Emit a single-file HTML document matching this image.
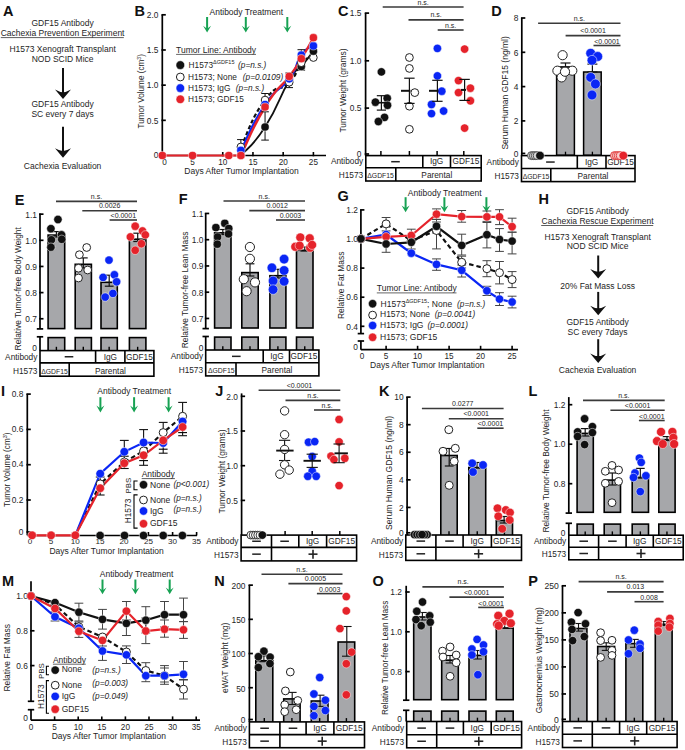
<!DOCTYPE html>
<html><head><meta charset="utf-8"><style>
html,body{margin:0;padding:0;background:#fff;}
svg{display:block;}
text{font-family:"Liberation Sans", sans-serif;}
</style></head><body>
<svg width="685" height="750" viewBox="0 0 685 750" font-family='"Liberation Sans", sans-serif'>
<rect width="685" height="750" fill="#fff"/>
<text x="3.00" y="16.20" font-size="14.5" text-anchor="start" font-weight="bold" fill="#111">A</text>
<text x="62.60" y="26.00" font-size="8.5" text-anchor="middle" fill="#1e1e1e">GDF15 Antibody</text>
<text x="62.60" y="36.00" font-size="8.5" text-anchor="middle" fill="#1e1e1e">Cachexia Prevention Experiment</text>
<line x1="0.80" y1="37.60" x2="123.80" y2="37.60" stroke="#333" stroke-width="0.8"/>
<text x="62.60" y="51.60" font-size="8.5" text-anchor="middle" fill="#1e1e1e">H1573 Xenograft Transplant</text>
<text x="62.60" y="61.70" font-size="8.5" text-anchor="middle" fill="#1e1e1e">NOD SCID Mice</text>
<line x1="63.00" y1="68.00" x2="63.00" y2="93.30" stroke="#111" stroke-width="2"/>
<path d="M55.00,89.50 Q60.20,92.36 63.00,92.16 Q65.80,92.36 71.00,89.50 L63.00,99.00 Z" fill="#111"/>
<text x="62.60" y="107.40" font-size="8.5" text-anchor="middle" fill="#1e1e1e">GDF15 Antibody</text>
<text x="62.60" y="117.30" font-size="8.5" text-anchor="middle" fill="#1e1e1e">SC every 7 days</text>
<line x1="63.00" y1="126.80" x2="63.00" y2="152.10" stroke="#111" stroke-width="2"/>
<path d="M55.00,148.30 Q60.20,151.16 63.00,150.96 Q65.80,151.16 71.00,148.30 L63.00,157.80 Z" fill="#111"/>
<text x="62.60" y="168.60" font-size="8.5" text-anchor="middle" fill="#1e1e1e">Cachexia Evaluation</text>
<text x="134.60" y="16.00" font-size="14.5" text-anchor="start" font-weight="bold" fill="#111">B</text>
<line x1="162.30" y1="14.80" x2="162.30" y2="155.50" stroke="#000" stroke-width="1.7"/>
<line x1="161.45" y1="14.80" x2="165.80" y2="14.80" stroke="#000" stroke-width="1.7"/>
<text x="158.40" y="18.00" font-size="8.4" text-anchor="end" fill="#1e1e1e">2.0</text>
<line x1="161.45" y1="49.98" x2="165.80" y2="49.98" stroke="#000" stroke-width="1.7"/>
<text x="158.40" y="53.18" font-size="8.4" text-anchor="end" fill="#1e1e1e">1.5</text>
<line x1="161.45" y1="85.15" x2="165.80" y2="85.15" stroke="#000" stroke-width="1.7"/>
<text x="158.40" y="88.35" font-size="8.4" text-anchor="end" fill="#1e1e1e">1.0</text>
<line x1="161.45" y1="120.33" x2="165.80" y2="120.33" stroke="#000" stroke-width="1.7"/>
<text x="158.40" y="123.53" font-size="8.4" text-anchor="end" fill="#1e1e1e">0.5</text>
<line x1="161.45" y1="154.30" x2="165.80" y2="154.30" stroke="#000" stroke-width="1.7"/>
<text x="158.40" y="157.50" font-size="8.4" text-anchor="end" fill="#1e1e1e">0</text>
<line x1="162.30" y1="155.50" x2="326.00" y2="155.50" stroke="#000" stroke-width="1.7"/>
<line x1="192.52" y1="156.30" x2="192.52" y2="152.00" stroke="#000" stroke-width="1.6"/>
<line x1="222.74" y1="156.30" x2="222.74" y2="152.00" stroke="#000" stroke-width="1.6"/>
<line x1="252.96" y1="156.30" x2="252.96" y2="152.00" stroke="#000" stroke-width="1.6"/>
<line x1="283.18" y1="156.30" x2="283.18" y2="152.00" stroke="#000" stroke-width="1.6"/>
<line x1="313.40" y1="156.30" x2="313.40" y2="152.00" stroke="#000" stroke-width="1.6"/>
<text x="164.60" y="164.80" font-size="8.2" text-anchor="middle" fill="#1e1e1e">0</text>
<text x="192.52" y="164.80" font-size="8.2" text-anchor="middle" fill="#1e1e1e">5</text>
<text x="222.74" y="164.80" font-size="8.2" text-anchor="middle" fill="#1e1e1e">10</text>
<text x="252.96" y="164.80" font-size="8.2" text-anchor="middle" fill="#1e1e1e">15</text>
<text x="283.18" y="164.80" font-size="8.2" text-anchor="middle" fill="#1e1e1e">20</text>
<text x="313.40" y="164.80" font-size="8.2" text-anchor="middle" fill="#1e1e1e">25</text>
<text x="241.50" y="173.90" font-size="8.5" text-anchor="middle" fill="#1e1e1e">Days After Tumor Implantation</text>
<text x="144.50" y="91.30" font-size="8.2" text-anchor="middle" fill="#1e1e1e" transform="rotate(-90 144.50 91.30)">Tumor Volume (cm<tspan dy="-3" font-size="5">3</tspan><tspan dy="3">)</tspan></text>
<text x="209.50" y="14.70" font-size="8.5" text-anchor="start" fill="#1e1e1e">Antibody Treatment</text>
<line x1="207.10" y1="17.00" x2="207.10" y2="28.30" stroke="#17a253" stroke-width="2.0"/>
<path d="M203.10,25.80 L207.10,32.60 L211.10,25.80 L208.10,28.00 L206.10,28.00 Z" fill="#17a253"/>
<line x1="245.80" y1="17.00" x2="245.80" y2="28.30" stroke="#17a253" stroke-width="2.0"/>
<path d="M241.80,25.80 L245.80,32.60 L249.80,25.80 L246.80,28.00 L244.80,28.00 Z" fill="#17a253"/>
<line x1="287.30" y1="17.00" x2="287.30" y2="28.30" stroke="#17a253" stroke-width="2.0"/>
<path d="M283.30,25.80 L287.30,32.60 L291.30,25.80 L288.30,28.00 L286.30,28.00 Z" fill="#17a253"/>
<text x="176.10" y="52.90" font-size="8.5" text-anchor="start" fill="#1e1e1e">Tumor Line: Antibody</text>
<line x1="176.10" y1="54.40" x2="256.00" y2="54.40" stroke="#555" stroke-width="0.9"/>
<circle cx="180.30" cy="65.10" r="4.35" fill="#111" stroke="#fff" stroke-width="0.5"/>
<circle cx="180.30" cy="77.00" r="3.9" fill="#fff" stroke="#222" stroke-width="1"/>
<circle cx="180.30" cy="88.10" r="4.3" fill="#0a26f5" stroke="#fff" stroke-width="0.5"/>
<circle cx="180.30" cy="99.30" r="4.3" fill="#e5232b" stroke="#fff" stroke-width="0.5"/>
<text x="188.60" y="67.90" font-size="8.3" text-anchor="start" fill="#1e1e1e">H1573<tspan dy="-3.5" font-size="5.5">ΔGDF15</tspan></text>
<text x="238.00" y="67.90" font-size="8.3" text-anchor="start" font-style="italic" fill="#1e1e1e">(p=n.s.)</text>
<text x="188.00" y="79.60" font-size="8.3" text-anchor="start" fill="#1e1e1e">H1573; None</text>
<text x="242.80" y="79.60" font-size="8.3" text-anchor="start" font-style="italic" fill="#1e1e1e">(p=0.0109)</text>
<text x="188.00" y="90.50" font-size="8.3" text-anchor="start" fill="#1e1e1e">H1573; IgG</text>
<text x="235.80" y="90.50" font-size="8.3" text-anchor="start" font-style="italic" fill="#1e1e1e">(p=n.s.)</text>
<text x="188.00" y="101.90" font-size="8.3" text-anchor="start" fill="#1e1e1e">H1573; GDF15</text>
<path d="M240.87,155.50 C248.12,146.95 250.54,149.50 265.05,127.00 C279.55,104.50 278.34,98.65 289.22,80.50 C300.10,62.35 294.06,75.29 301.31,66.50 C308.56,57.71 309.77,55.79 313.40,51.20" stroke="#111" stroke-width="1.8" fill="none"/>
<path d="M240.87,146.90 C248.12,132.83 250.54,119.38 265.05,100.00 C279.55,80.62 278.34,93.46 289.22,82.30 C300.10,71.14 294.06,70.21 301.31,62.80 C308.56,55.39 309.77,59.16 313.40,57.60" stroke="#111" stroke-width="2.2" fill="none" stroke-dasharray="4,2.5"/>
<path d="M240.87,150.40 C248.12,136.63 250.54,125.98 265.05,104.50 C279.55,83.02 278.34,93.65 289.22,78.80 C300.10,63.95 294.06,64.87 301.31,55.00 C308.56,45.13 309.77,48.63 313.40,45.90" stroke="#0a26f5" stroke-width="2.2" fill="none"/>
<path d="M162.3,155.5 L240.9,155.5" stroke="#e5232b" stroke-width="2.2" fill="none"/>
<path d="M240.87,155.50 C248.12,140.95 250.54,130.73 265.05,107.00 C279.55,83.27 278.34,90.89 289.22,76.40 C300.10,61.91 294.06,70.31 301.31,58.70 C308.56,47.09 309.77,44.00 313.40,37.70" stroke="#e5232b" stroke-width="2.4" fill="none"/>
<line x1="265.05" y1="111.80" x2="265.05" y2="140.10" stroke="#111" stroke-width="1.0"/>
<line x1="261.25" y1="111.80" x2="268.85" y2="111.80" stroke="#111" stroke-width="1.0"/>
<line x1="261.25" y1="140.10" x2="268.85" y2="140.10" stroke="#111" stroke-width="1.0"/>
<line x1="265.05" y1="93.50" x2="265.05" y2="106.00" stroke="#111" stroke-width="1.0"/>
<line x1="261.25" y1="93.50" x2="268.85" y2="93.50" stroke="#111" stroke-width="1.0"/>
<line x1="261.25" y1="106.00" x2="268.85" y2="106.00" stroke="#111" stroke-width="1.0"/>
<line x1="240.87" y1="139.60" x2="240.87" y2="150.00" stroke="#111" stroke-width="1.0"/>
<line x1="237.07" y1="139.60" x2="244.67" y2="139.60" stroke="#111" stroke-width="1.0"/>
<line x1="237.07" y1="150.00" x2="244.67" y2="150.00" stroke="#111" stroke-width="1.0"/>
<line x1="289.22" y1="73.00" x2="289.22" y2="87.60" stroke="#111" stroke-width="1.0"/>
<line x1="285.42" y1="73.00" x2="293.02" y2="73.00" stroke="#111" stroke-width="1.0"/>
<line x1="285.42" y1="87.60" x2="293.02" y2="87.60" stroke="#111" stroke-width="1.0"/>
<line x1="301.31" y1="49.70" x2="301.31" y2="70.10" stroke="#111" stroke-width="1.0"/>
<line x1="297.51" y1="49.70" x2="305.11" y2="49.70" stroke="#111" stroke-width="1.0"/>
<line x1="297.51" y1="70.10" x2="305.11" y2="70.10" stroke="#111" stroke-width="1.0"/>
<circle cx="162.30" cy="155.50" r="4.1" fill="#e5232b" stroke="#fff" stroke-width="0.5"/>
<circle cx="192.52" cy="155.50" r="4.1" fill="#e5232b" stroke="#fff" stroke-width="0.5"/>
<circle cx="228.78" cy="155.50" r="4.1" fill="#e5232b" stroke="#fff" stroke-width="0.5"/>
<circle cx="240.87" cy="155.50" r="4.1" fill="#e5232b" stroke="#fff" stroke-width="0.5"/>
<circle cx="240.87" cy="146.90" r="3.8" fill="#fff" stroke="#222" stroke-width="1"/>
<circle cx="240.87" cy="150.40" r="4.1" fill="#0a26f5" stroke="#fff" stroke-width="0.5"/>
<circle cx="240.87" cy="155.50" r="4.1" fill="#e5232b" stroke="#fff" stroke-width="0.5"/>
<circle cx="265.05" cy="127.00" r="4.1" fill="#111" stroke="#fff" stroke-width="0.5"/>
<circle cx="265.05" cy="100.00" r="3.8" fill="#fff" stroke="#222" stroke-width="1"/>
<circle cx="265.05" cy="104.50" r="4.1" fill="#0a26f5" stroke="#fff" stroke-width="0.5"/>
<circle cx="265.05" cy="107.00" r="4.1" fill="#e5232b" stroke="#fff" stroke-width="0.5"/>
<circle cx="289.22" cy="80.50" r="4.1" fill="#111" stroke="#fff" stroke-width="0.5"/>
<circle cx="289.22" cy="82.30" r="3.8" fill="#fff" stroke="#222" stroke-width="1"/>
<circle cx="289.22" cy="78.80" r="4.1" fill="#0a26f5" stroke="#fff" stroke-width="0.5"/>
<circle cx="289.22" cy="76.40" r="4.1" fill="#e5232b" stroke="#fff" stroke-width="0.5"/>
<circle cx="301.31" cy="66.50" r="4.1" fill="#111" stroke="#fff" stroke-width="0.5"/>
<circle cx="301.31" cy="62.80" r="3.8" fill="#fff" stroke="#222" stroke-width="1"/>
<circle cx="301.31" cy="55.00" r="4.1" fill="#0a26f5" stroke="#fff" stroke-width="0.5"/>
<circle cx="301.31" cy="58.70" r="4.1" fill="#e5232b" stroke="#fff" stroke-width="0.5"/>
<circle cx="313.40" cy="57.60" r="3.8" fill="#fff" stroke="#222" stroke-width="1"/>
<circle cx="313.40" cy="51.20" r="4.1" fill="#111" stroke="#fff" stroke-width="0.5"/>
<circle cx="313.40" cy="45.90" r="4.1" fill="#0a26f5" stroke="#fff" stroke-width="0.5"/>
<circle cx="313.40" cy="37.70" r="4.1" fill="#e5232b" stroke="#fff" stroke-width="0.5"/>
<text x="338.00" y="16.40" font-size="14.5" text-anchor="start" font-weight="bold" fill="#111">C</text>
<line x1="365.60" y1="13.10" x2="365.60" y2="155.60" stroke="#000" stroke-width="1.7"/>
<line x1="364.75" y1="13.10" x2="369.10" y2="13.10" stroke="#000" stroke-width="1.7"/>
<text x="361.50" y="16.30" font-size="8.4" text-anchor="end" fill="#1e1e1e">1.5</text>
<line x1="364.75" y1="60.80" x2="369.10" y2="60.80" stroke="#000" stroke-width="1.7"/>
<text x="361.50" y="64.00" font-size="8.4" text-anchor="end" fill="#1e1e1e">1.0</text>
<line x1="364.75" y1="108.10" x2="369.10" y2="108.10" stroke="#000" stroke-width="1.7"/>
<text x="361.50" y="111.30" font-size="8.4" text-anchor="end" fill="#1e1e1e">0.5</text>
<line x1="364.75" y1="154.00" x2="369.10" y2="154.00" stroke="#000" stroke-width="1.7"/>
<text x="361.50" y="157.20" font-size="8.4" text-anchor="end" fill="#1e1e1e">0</text>
<line x1="380.90" y1="155.00" x2="380.90" y2="151.00" stroke="#000" stroke-width="1.5"/>
<line x1="409.40" y1="155.00" x2="409.40" y2="151.00" stroke="#000" stroke-width="1.5"/>
<line x1="437.10" y1="155.00" x2="437.10" y2="151.00" stroke="#000" stroke-width="1.5"/>
<line x1="463.80" y1="155.00" x2="463.80" y2="151.00" stroke="#000" stroke-width="1.5"/>
<line x1="382.70" y1="7.00" x2="463.60" y2="7.00" stroke="#3a3a3a" stroke-width="1.6"/>
<text x="423.15" y="4.50" font-size="7.0" text-anchor="middle" fill="#1e1e1e">n.s.</text>
<line x1="408.50" y1="19.90" x2="463.60" y2="19.90" stroke="#3a3a3a" stroke-width="1.6"/>
<text x="436.05" y="17.40" font-size="7.0" text-anchor="middle" fill="#1e1e1e">n.s.</text>
<line x1="437.70" y1="30.00" x2="463.60" y2="30.00" stroke="#3a3a3a" stroke-width="1.6"/>
<text x="450.65" y="27.50" font-size="7.0" text-anchor="middle" fill="#1e1e1e">n.s.</text>
<text x="346.30" y="90.50" font-size="8.45" text-anchor="middle" fill="#1e1e1e" transform="rotate(-90 346.30 90.50)">Tumor Weight (grams)</text>
<circle cx="381.40" cy="71.90" r="4.2" fill="#111" stroke="#fff" stroke-width="0.5"/>
<circle cx="387.20" cy="98.30" r="4.2" fill="#111" stroke="#fff" stroke-width="0.5"/>
<circle cx="375.40" cy="102.20" r="4.2" fill="#111" stroke="#fff" stroke-width="0.5"/>
<circle cx="387.50" cy="105.30" r="4.2" fill="#111" stroke="#fff" stroke-width="0.5"/>
<circle cx="384.50" cy="117.40" r="4.2" fill="#111" stroke="#fff" stroke-width="0.5"/>
<circle cx="378.40" cy="121.50" r="4.2" fill="#111" stroke="#fff" stroke-width="0.5"/>
<line x1="381.40" y1="95.70" x2="381.40" y2="110.10" stroke="#111" stroke-width="1.2"/>
<line x1="376.80" y1="95.70" x2="386.00" y2="95.70" stroke="#111" stroke-width="1.2"/>
<line x1="376.80" y1="110.10" x2="386.00" y2="110.10" stroke="#111" stroke-width="1.2"/>
<line x1="377.00" y1="102.70" x2="386.00" y2="102.70" stroke="#111" stroke-width="1.6"/>
<circle cx="409.40" cy="57.50" r="3.9" fill="#fff" stroke="#222" stroke-width="1"/>
<circle cx="409.40" cy="68.40" r="3.9" fill="#fff" stroke="#222" stroke-width="1"/>
<circle cx="414.80" cy="92.60" r="3.9" fill="#fff" stroke="#222" stroke-width="1"/>
<circle cx="409.40" cy="106.20" r="3.9" fill="#fff" stroke="#222" stroke-width="1"/>
<circle cx="409.40" cy="129.30" r="3.9" fill="#fff" stroke="#222" stroke-width="1"/>
<line x1="409.40" y1="78.20" x2="409.40" y2="103.40" stroke="#111" stroke-width="1.2"/>
<line x1="404.20" y1="78.20" x2="414.60" y2="78.20" stroke="#111" stroke-width="1.2"/>
<line x1="404.20" y1="103.40" x2="414.60" y2="103.40" stroke="#111" stroke-width="1.2"/>
<line x1="401.00" y1="90.80" x2="410.50" y2="90.80" stroke="#111" stroke-width="2.0"/>
<circle cx="437.40" cy="48.40" r="4.2" fill="#0a26f5" stroke="#fff" stroke-width="0.5"/>
<circle cx="437.40" cy="75.90" r="4.2" fill="#0a26f5" stroke="#fff" stroke-width="0.5"/>
<circle cx="441.80" cy="91.20" r="4.2" fill="#0a26f5" stroke="#fff" stroke-width="0.5"/>
<circle cx="431.50" cy="104.50" r="4.2" fill="#0a26f5" stroke="#fff" stroke-width="0.5"/>
<circle cx="431.50" cy="113.60" r="4.2" fill="#0a26f5" stroke="#fff" stroke-width="0.5"/>
<circle cx="443.60" cy="111.00" r="4.2" fill="#0a26f5" stroke="#fff" stroke-width="0.5"/>
<line x1="437.40" y1="80.30" x2="437.40" y2="101.30" stroke="#111" stroke-width="1.2"/>
<line x1="432.20" y1="80.30" x2="442.60" y2="80.30" stroke="#111" stroke-width="1.2"/>
<line x1="432.20" y1="101.30" x2="442.60" y2="101.30" stroke="#111" stroke-width="1.2"/>
<line x1="429.00" y1="90.80" x2="438.50" y2="90.80" stroke="#111" stroke-width="2.0"/>
<circle cx="464.60" cy="49.10" r="4.2" fill="#e5232b" stroke="#fff" stroke-width="0.5"/>
<circle cx="458.50" cy="80.60" r="4.2" fill="#e5232b" stroke="#fff" stroke-width="0.5"/>
<circle cx="470.40" cy="88.20" r="4.2" fill="#e5232b" stroke="#fff" stroke-width="0.5"/>
<circle cx="458.50" cy="92.60" r="4.2" fill="#e5232b" stroke="#fff" stroke-width="0.5"/>
<circle cx="470.40" cy="100.80" r="4.2" fill="#e5232b" stroke="#fff" stroke-width="0.5"/>
<circle cx="464.60" cy="128.10" r="4.2" fill="#e5232b" stroke="#fff" stroke-width="0.5"/>
<line x1="464.60" y1="79.40" x2="464.60" y2="100.40" stroke="#111" stroke-width="1.2"/>
<line x1="459.40" y1="79.40" x2="469.80" y2="79.40" stroke="#111" stroke-width="1.2"/>
<line x1="459.40" y1="100.40" x2="469.80" y2="100.40" stroke="#111" stroke-width="1.2"/>
<line x1="461.00" y1="89.90" x2="466.00" y2="89.90" stroke="#111" stroke-width="2.0"/>
<rect x="365.80" y="155.60" width="115.40" height="25.40" fill="#fff" stroke="#000" stroke-width="1.6"/>
<line x1="365.80" y1="167.80" x2="481.20" y2="167.80" stroke="#000" stroke-width="1.6"/>
<line x1="422.80" y1="155.60" x2="422.80" y2="167.80" stroke="#000" stroke-width="1.6"/>
<line x1="450.50" y1="155.60" x2="450.50" y2="167.80" stroke="#000" stroke-width="1.6"/>
<line x1="395.80" y1="167.80" x2="395.80" y2="181.00" stroke="#000" stroke-width="1.6"/>
<text x="363.20" y="164.40" font-size="8.3" text-anchor="end" fill="#1e1e1e">Antibody</text>
<text x="363.20" y="178.30" font-size="8.3" text-anchor="end" fill="#1e1e1e">H1573</text>
<line x1="391.20" y1="161.70" x2="399.80" y2="161.70" stroke="#222" stroke-width="1.5"/>
<text x="436.60" y="164.40" font-size="8.3" text-anchor="middle" fill="#1e1e1e">IgG</text>
<text x="465.90" y="164.40" font-size="8.3" text-anchor="middle" fill="#1e1e1e">GDF15</text>
<text x="380.60" y="178.30" font-size="6.85" text-anchor="middle" fill="#1e1e1e">ΔGDF15</text>
<text x="436.80" y="178.30" font-size="8.3" text-anchor="middle" fill="#1e1e1e">Parental</text>
<text x="491.20" y="15.50" font-size="14.5" text-anchor="start" font-weight="bold" fill="#111">D</text>
<line x1="521.80" y1="18.00" x2="521.80" y2="155.20" stroke="#000" stroke-width="1.7"/>
<line x1="520.95" y1="18.00" x2="525.30" y2="18.00" stroke="#000" stroke-width="1.7"/>
<text x="518.40" y="21.20" font-size="8.4" text-anchor="end" fill="#1e1e1e">8</text>
<line x1="520.95" y1="52.30" x2="525.30" y2="52.30" stroke="#000" stroke-width="1.7"/>
<text x="518.40" y="55.50" font-size="8.4" text-anchor="end" fill="#1e1e1e">6</text>
<line x1="520.95" y1="86.60" x2="525.30" y2="86.60" stroke="#000" stroke-width="1.7"/>
<text x="518.40" y="89.80" font-size="8.4" text-anchor="end" fill="#1e1e1e">4</text>
<line x1="520.95" y1="120.90" x2="525.30" y2="120.90" stroke="#000" stroke-width="1.7"/>
<text x="518.40" y="124.10" font-size="8.4" text-anchor="end" fill="#1e1e1e">2</text>
<line x1="520.95" y1="153.40" x2="525.30" y2="153.40" stroke="#000" stroke-width="1.7"/>
<text x="518.40" y="156.60" font-size="8.4" text-anchor="end" fill="#1e1e1e">0</text>
<text x="508.50" y="92.90" font-size="8.5" text-anchor="middle" fill="#1e1e1e" transform="rotate(-90 508.50 92.90)">Serum Human GDF15 (ng/ml)</text>
<line x1="538.10" y1="23.30" x2="620.50" y2="23.30" stroke="#3a3a3a" stroke-width="1.6"/>
<text x="579.30" y="20.80" font-size="7.0" text-anchor="middle" fill="#1e1e1e">n.s.</text>
<line x1="565.60" y1="35.60" x2="620.50" y2="35.60" stroke="#3a3a3a" stroke-width="1.6"/>
<text x="593.05" y="33.10" font-size="7.0" text-anchor="middle" fill="#1e1e1e">&lt;0.0001</text>
<line x1="593.50" y1="45.50" x2="620.50" y2="45.50" stroke="#3a3a3a" stroke-width="1.6"/>
<text x="607.00" y="44.00" font-size="7.0" text-anchor="middle" fill="#1e1e1e">&lt;0.0001</text>
<rect x="556.60" y="67.00" width="17.80" height="88.20" fill="#a6a7aa" stroke="#000" stroke-width="1.5"/>
<rect x="583.60" y="72.00" width="17.60" height="83.20" fill="#a6a7aa" stroke="#000" stroke-width="1.5"/>
<line x1="565.50" y1="155.20" x2="565.50" y2="151.70" stroke="#000" stroke-width="1.3"/>
<line x1="592.40" y1="155.20" x2="592.40" y2="151.70" stroke="#000" stroke-width="1.3"/>
<line x1="592.40" y1="64.10" x2="592.40" y2="72.00" stroke="#111" stroke-width="1.2"/>
<line x1="587.40" y1="64.10" x2="597.40" y2="64.10" stroke="#111" stroke-width="1.2"/>
<line x1="587.40" y1="72.00" x2="597.40" y2="72.00" stroke="#111" stroke-width="1.2"/>
<line x1="565.50" y1="63.00" x2="565.50" y2="67.00" stroke="#111" stroke-width="1.2"/>
<line x1="560.50" y1="63.00" x2="570.50" y2="63.00" stroke="#111" stroke-width="1.2"/>
<line x1="560.50" y1="67.00" x2="570.50" y2="67.00" stroke="#111" stroke-width="1.2"/>
<circle cx="562.60" cy="55.20" r="4.6" fill="#fff" stroke="#222" stroke-width="1"/>
<circle cx="557.40" cy="70.70" r="4.6" fill="#fff" stroke="#222" stroke-width="1"/>
<circle cx="572.30" cy="70.70" r="4.6" fill="#fff" stroke="#222" stroke-width="1"/>
<circle cx="561.60" cy="77.40" r="4.6" fill="#fff" stroke="#222" stroke-width="1"/>
<circle cx="565.00" cy="71.70" r="4.6" fill="#fff" stroke="#222" stroke-width="1"/>
<circle cx="590.70" cy="53.30" r="4.8999999999999995" fill="#0a26f5" stroke="#fff" stroke-width="0.5"/>
<circle cx="597.70" cy="56.50" r="4.8999999999999995" fill="#0a26f5" stroke="#fff" stroke-width="0.5"/>
<circle cx="592.00" cy="60.30" r="4.8999999999999995" fill="#0a26f5" stroke="#fff" stroke-width="0.5"/>
<circle cx="590.70" cy="77.40" r="4.8999999999999995" fill="#0a26f5" stroke="#fff" stroke-width="0.5"/>
<circle cx="595.40" cy="84.00" r="4.8999999999999995" fill="#0a26f5" stroke="#fff" stroke-width="0.5"/>
<circle cx="592.00" cy="95.00" r="4.8999999999999995" fill="#0a26f5" stroke="#fff" stroke-width="0.5"/>
<rect x="521.50" y="155.60" width="113.50" height="26.00" fill="#fff" stroke="#000" stroke-width="1.6"/>
<line x1="521.50" y1="168.50" x2="635.00" y2="168.50" stroke="#000" stroke-width="1.6"/>
<line x1="577.30" y1="155.60" x2="577.30" y2="168.50" stroke="#000" stroke-width="1.6"/>
<line x1="606.00" y1="155.60" x2="606.00" y2="168.50" stroke="#000" stroke-width="1.6"/>
<line x1="550.80" y1="168.50" x2="550.80" y2="181.60" stroke="#000" stroke-width="1.6"/>
<text x="518.90" y="165.10" font-size="8.3" text-anchor="end" fill="#1e1e1e">Antibody</text>
<text x="518.90" y="178.90" font-size="8.3" text-anchor="end" fill="#1e1e1e">H1573</text>
<line x1="546.10" y1="162.05" x2="554.70" y2="162.05" stroke="#222" stroke-width="1.5"/>
<text x="591.60" y="165.10" font-size="8.3" text-anchor="middle" fill="#1e1e1e">IgG</text>
<text x="620.50" y="165.10" font-size="8.3" text-anchor="middle" fill="#1e1e1e">GDF15</text>
<text x="536.00" y="178.90" font-size="6.85" text-anchor="middle" fill="#1e1e1e">ΔGDF15</text>
<text x="593.00" y="178.90" font-size="8.3" text-anchor="middle" fill="#1e1e1e">Parental</text>
<circle cx="531.50" cy="155.60" r="4.0" fill="#d8d8d8" stroke="#444" stroke-width="0.9"/>
<circle cx="533.40" cy="155.60" r="4.0" fill="#d8d8d8" stroke="#444" stroke-width="0.9"/>
<circle cx="535.30" cy="155.60" r="4.0" fill="#d8d8d8" stroke="#444" stroke-width="0.9"/>
<circle cx="537.20" cy="155.60" r="4.0" fill="#d8d8d8" stroke="#444" stroke-width="0.9"/>
<circle cx="540.00" cy="155.60" r="4.3" fill="#111" stroke="#fff" stroke-width="0.5"/>
<circle cx="614.50" cy="155.60" r="4.0" fill="#f8c8c8" stroke="#e03838" stroke-width="0.9"/>
<circle cx="616.40" cy="155.60" r="4.0" fill="#f8c8c8" stroke="#e03838" stroke-width="0.9"/>
<circle cx="618.30" cy="155.60" r="4.0" fill="#f8c8c8" stroke="#e03838" stroke-width="0.9"/>
<circle cx="620.20" cy="155.60" r="4.0" fill="#f8c8c8" stroke="#e03838" stroke-width="0.9"/>
<circle cx="623.30" cy="155.60" r="4.3" fill="#e5232b" stroke="#fff" stroke-width="0.5"/>
<text x="14.80" y="204.50" font-size="14.5" text-anchor="start" font-weight="bold" fill="#111">E</text>
<line x1="40.00" y1="213.60" x2="40.00" y2="328.90" stroke="#000" stroke-width="1.7"/>
<line x1="36.80" y1="328.90" x2="43.20" y2="328.90" stroke="#000" stroke-width="1.7"/>
<line x1="40.00" y1="336.80" x2="40.00" y2="350.60" stroke="#000" stroke-width="1.7"/>
<line x1="36.80" y1="336.80" x2="43.20" y2="336.80" stroke="#000" stroke-width="1.7"/>
<line x1="39.15" y1="214.15" x2="43.50" y2="214.15" stroke="#000" stroke-width="1.7"/>
<text x="37.00" y="217.65" font-size="8.4" text-anchor="end" fill="#1e1e1e">1.1</text>
<line x1="39.15" y1="240.30" x2="43.50" y2="240.30" stroke="#000" stroke-width="1.7"/>
<text x="37.00" y="243.80" font-size="8.4" text-anchor="end" fill="#1e1e1e">1.0</text>
<line x1="39.15" y1="266.45" x2="43.50" y2="266.45" stroke="#000" stroke-width="1.7"/>
<text x="37.00" y="269.95" font-size="8.4" text-anchor="end" fill="#1e1e1e">0.9</text>
<line x1="39.15" y1="292.60" x2="43.50" y2="292.60" stroke="#000" stroke-width="1.7"/>
<text x="37.00" y="296.10" font-size="8.4" text-anchor="end" fill="#1e1e1e">0.8</text>
<line x1="39.15" y1="318.75" x2="43.50" y2="318.75" stroke="#000" stroke-width="1.7"/>
<text x="37.00" y="322.25" font-size="8.4" text-anchor="end" fill="#1e1e1e">0.7</text>
<text x="37.00" y="351.20" font-size="8.4" text-anchor="end" fill="#1e1e1e">0</text>
<text x="21.20" y="288.80" font-size="8.4" text-anchor="middle" fill="#1e1e1e" transform="rotate(-90 21.20 288.80)">Relative Tumor-free Body Weight</text>
<line x1="56.00" y1="201.40" x2="137.00" y2="201.40" stroke="#3a3a3a" stroke-width="1.6"/>
<text x="96.50" y="198.90" font-size="7.0" text-anchor="middle" fill="#1e1e1e">n.s.</text>
<line x1="82.30" y1="210.80" x2="137.00" y2="210.80" stroke="#3a3a3a" stroke-width="1.6"/>
<text x="109.65" y="208.30" font-size="7.0" text-anchor="middle" fill="#1e1e1e">0.0026</text>
<line x1="109.60" y1="220.00" x2="137.00" y2="220.00" stroke="#3a3a3a" stroke-width="1.6"/>
<text x="123.30" y="218.20" font-size="7.0" text-anchor="middle" fill="#1e1e1e">&lt;0.0001</text>
<rect x="48.10" y="235.10" width="16.60" height="93.50" fill="#a6a7aa" stroke="#000" stroke-width="1.6"/>
<rect x="48.10" y="337.60" width="16.60" height="15.80" fill="#a6a7aa" stroke="#000" stroke-width="1.6"/>
<line x1="56.40" y1="350.60" x2="56.40" y2="346.80" stroke="#000" stroke-width="1.4"/>
<rect x="75.20" y="264.30" width="16.20" height="64.30" fill="#a6a7aa" stroke="#000" stroke-width="1.6"/>
<rect x="75.20" y="337.60" width="16.20" height="15.80" fill="#a6a7aa" stroke="#000" stroke-width="1.6"/>
<line x1="83.30" y1="350.60" x2="83.30" y2="346.80" stroke="#000" stroke-width="1.4"/>
<rect x="101.00" y="282.30" width="16.30" height="46.30" fill="#a6a7aa" stroke="#000" stroke-width="1.6"/>
<rect x="101.00" y="337.60" width="16.30" height="15.80" fill="#a6a7aa" stroke="#000" stroke-width="1.6"/>
<line x1="109.15" y1="350.60" x2="109.15" y2="346.80" stroke="#000" stroke-width="1.4"/>
<rect x="129.40" y="239.20" width="16.50" height="89.40" fill="#a6a7aa" stroke="#000" stroke-width="1.6"/>
<rect x="129.40" y="337.60" width="16.50" height="15.80" fill="#a6a7aa" stroke="#000" stroke-width="1.6"/>
<line x1="137.65" y1="350.60" x2="137.65" y2="346.80" stroke="#000" stroke-width="1.4"/>
<line x1="56.40" y1="231.60" x2="56.40" y2="237.00" stroke="#111" stroke-width="1.2"/>
<line x1="52.00" y1="231.60" x2="60.80" y2="231.60" stroke="#111" stroke-width="1.2"/>
<line x1="52.00" y1="237.00" x2="60.80" y2="237.00" stroke="#111" stroke-width="1.2"/>
<line x1="83.30" y1="257.90" x2="83.30" y2="268.00" stroke="#111" stroke-width="1.2"/>
<line x1="78.90" y1="257.90" x2="87.70" y2="257.90" stroke="#111" stroke-width="1.2"/>
<line x1="78.90" y1="268.00" x2="87.70" y2="268.00" stroke="#111" stroke-width="1.2"/>
<line x1="109.20" y1="275.20" x2="109.20" y2="286.20" stroke="#111" stroke-width="1.2"/>
<line x1="104.80" y1="275.20" x2="113.60" y2="275.20" stroke="#111" stroke-width="1.2"/>
<line x1="104.80" y1="286.20" x2="113.60" y2="286.20" stroke="#111" stroke-width="1.2"/>
<line x1="137.70" y1="233.20" x2="137.70" y2="241.50" stroke="#111" stroke-width="1.2"/>
<line x1="133.30" y1="233.20" x2="142.10" y2="233.20" stroke="#111" stroke-width="1.2"/>
<line x1="133.30" y1="241.50" x2="142.10" y2="241.50" stroke="#111" stroke-width="1.2"/>
<circle cx="57.95" cy="219.50" r="4.2" fill="#111" stroke="#fff" stroke-width="0.5"/>
<circle cx="50.90" cy="228.70" r="4.2" fill="#111" stroke="#fff" stroke-width="0.5"/>
<circle cx="61.50" cy="234.80" r="4.2" fill="#111" stroke="#fff" stroke-width="0.5"/>
<circle cx="51.40" cy="239.80" r="4.2" fill="#111" stroke="#fff" stroke-width="0.5"/>
<circle cx="61.70" cy="239.30" r="4.2" fill="#111" stroke="#fff" stroke-width="0.5"/>
<circle cx="50.90" cy="247.20" r="4.2" fill="#111" stroke="#fff" stroke-width="0.5"/>
<circle cx="86.70" cy="247.50" r="3.9" fill="#fff" stroke="#222" stroke-width="1"/>
<circle cx="79.40" cy="254.70" r="3.9" fill="#fff" stroke="#222" stroke-width="1"/>
<circle cx="78.50" cy="268.20" r="3.9" fill="#fff" stroke="#222" stroke-width="1"/>
<circle cx="87.70" cy="270.00" r="3.9" fill="#fff" stroke="#222" stroke-width="1"/>
<circle cx="78.50" cy="278.00" r="3.9" fill="#fff" stroke="#222" stroke-width="1"/>
<circle cx="109.00" cy="260.10" r="4.2" fill="#0a26f5" stroke="#fff" stroke-width="0.5"/>
<circle cx="103.10" cy="277.40" r="4.2" fill="#0a26f5" stroke="#fff" stroke-width="0.5"/>
<circle cx="114.40" cy="274.80" r="4.2" fill="#0a26f5" stroke="#fff" stroke-width="0.5"/>
<circle cx="116.60" cy="281.80" r="4.2" fill="#0a26f5" stroke="#fff" stroke-width="0.5"/>
<circle cx="112.90" cy="293.40" r="4.2" fill="#0a26f5" stroke="#fff" stroke-width="0.5"/>
<circle cx="105.20" cy="297.10" r="4.2" fill="#0a26f5" stroke="#fff" stroke-width="0.5"/>
<circle cx="135.20" cy="226.20" r="4.2" fill="#e5232b" stroke="#fff" stroke-width="0.5"/>
<circle cx="142.50" cy="231.00" r="4.2" fill="#e5232b" stroke="#fff" stroke-width="0.5"/>
<circle cx="145.30" cy="234.90" r="4.2" fill="#e5232b" stroke="#fff" stroke-width="0.5"/>
<circle cx="130.40" cy="236.90" r="4.2" fill="#e5232b" stroke="#fff" stroke-width="0.5"/>
<circle cx="141.40" cy="243.70" r="4.2" fill="#e5232b" stroke="#fff" stroke-width="0.5"/>
<circle cx="135.20" cy="250.30" r="4.2" fill="#e5232b" stroke="#fff" stroke-width="0.5"/>
<rect x="40.00" y="350.60" width="113.90" height="25.60" fill="#fff" stroke="#000" stroke-width="1.6"/>
<line x1="40.00" y1="362.90" x2="153.90" y2="362.90" stroke="#000" stroke-width="1.6"/>
<line x1="95.60" y1="350.60" x2="95.60" y2="362.90" stroke="#000" stroke-width="1.6"/>
<line x1="124.90" y1="350.60" x2="124.90" y2="362.90" stroke="#000" stroke-width="1.6"/>
<line x1="69.20" y1="362.90" x2="69.20" y2="376.20" stroke="#000" stroke-width="1.6"/>
<text x="37.40" y="359.50" font-size="8.3" text-anchor="end" fill="#1e1e1e">Antibody</text>
<text x="37.40" y="373.50" font-size="8.3" text-anchor="end" fill="#1e1e1e">H1573</text>
<line x1="64.70" y1="356.75" x2="73.30" y2="356.75" stroke="#222" stroke-width="1.5"/>
<text x="110.40" y="359.50" font-size="8.3" text-anchor="middle" fill="#1e1e1e">IgG</text>
<text x="139.40" y="359.50" font-size="8.3" text-anchor="middle" fill="#1e1e1e">GDF15</text>
<text x="54.50" y="373.50" font-size="6.85" text-anchor="middle" fill="#1e1e1e">ΔGDF15</text>
<text x="110.40" y="373.50" font-size="8.3" text-anchor="middle" fill="#1e1e1e">Parental</text>
<text x="178.80" y="203.80" font-size="14.5" text-anchor="start" font-weight="bold" fill="#111">F</text>
<line x1="205.70" y1="213.00" x2="205.70" y2="328.60" stroke="#000" stroke-width="1.7"/>
<line x1="202.50" y1="328.60" x2="208.90" y2="328.60" stroke="#000" stroke-width="1.7"/>
<line x1="205.70" y1="336.50" x2="205.70" y2="350.00" stroke="#000" stroke-width="1.7"/>
<line x1="202.50" y1="336.50" x2="208.90" y2="336.50" stroke="#000" stroke-width="1.7"/>
<line x1="204.85" y1="213.45" x2="209.20" y2="213.45" stroke="#000" stroke-width="1.7"/>
<text x="203.50" y="216.75" font-size="8.4" text-anchor="end" fill="#1e1e1e">1.1</text>
<line x1="204.85" y1="239.70" x2="209.20" y2="239.70" stroke="#000" stroke-width="1.7"/>
<text x="203.50" y="243.00" font-size="8.4" text-anchor="end" fill="#1e1e1e">1.0</text>
<line x1="204.85" y1="265.95" x2="209.20" y2="265.95" stroke="#000" stroke-width="1.7"/>
<text x="203.50" y="269.25" font-size="8.4" text-anchor="end" fill="#1e1e1e">0.9</text>
<line x1="204.85" y1="292.20" x2="209.20" y2="292.20" stroke="#000" stroke-width="1.7"/>
<text x="203.50" y="295.50" font-size="8.4" text-anchor="end" fill="#1e1e1e">0.8</text>
<line x1="204.85" y1="318.45" x2="209.20" y2="318.45" stroke="#000" stroke-width="1.7"/>
<text x="203.50" y="321.75" font-size="8.4" text-anchor="end" fill="#1e1e1e">0.7</text>
<text x="203.50" y="350.60" font-size="8.4" text-anchor="end" fill="#1e1e1e">0</text>
<text x="187.80" y="289.90" font-size="8.4" text-anchor="middle" fill="#1e1e1e" transform="rotate(-90 187.80 289.90)">Relative Tumor-free Lean Mass</text>
<line x1="223.50" y1="201.00" x2="305.00" y2="201.00" stroke="#3a3a3a" stroke-width="1.6"/>
<text x="264.25" y="198.50" font-size="7.0" text-anchor="middle" fill="#1e1e1e">n.s.</text>
<line x1="249.30" y1="210.60" x2="305.00" y2="210.60" stroke="#3a3a3a" stroke-width="1.6"/>
<text x="277.15" y="208.10" font-size="7.0" text-anchor="middle" fill="#1e1e1e">0.0012</text>
<line x1="276.00" y1="220.00" x2="305.00" y2="220.00" stroke="#3a3a3a" stroke-width="1.6"/>
<text x="290.50" y="218.20" font-size="7.0" text-anchor="middle" fill="#1e1e1e">0.0003</text>
<rect x="214.60" y="232.80" width="16.40" height="95.20" fill="#a6a7aa" stroke="#000" stroke-width="1.6"/>
<rect x="214.60" y="337.10" width="16.40" height="15.70" fill="#a6a7aa" stroke="#000" stroke-width="1.6"/>
<line x1="222.80" y1="350.00" x2="222.80" y2="346.20" stroke="#000" stroke-width="1.4"/>
<rect x="241.80" y="272.60" width="16.40" height="55.40" fill="#a6a7aa" stroke="#000" stroke-width="1.6"/>
<rect x="241.80" y="337.10" width="16.40" height="15.70" fill="#a6a7aa" stroke="#000" stroke-width="1.6"/>
<line x1="250.00" y1="350.00" x2="250.00" y2="346.20" stroke="#000" stroke-width="1.4"/>
<rect x="269.90" y="275.70" width="16.00" height="52.30" fill="#a6a7aa" stroke="#000" stroke-width="1.6"/>
<rect x="269.90" y="337.10" width="16.00" height="15.70" fill="#a6a7aa" stroke="#000" stroke-width="1.6"/>
<line x1="277.90" y1="350.00" x2="277.90" y2="346.20" stroke="#000" stroke-width="1.4"/>
<rect x="296.50" y="250.30" width="16.50" height="77.70" fill="#a6a7aa" stroke="#000" stroke-width="1.6"/>
<rect x="296.50" y="337.10" width="16.50" height="15.70" fill="#a6a7aa" stroke="#000" stroke-width="1.6"/>
<line x1="304.75" y1="350.00" x2="304.75" y2="346.20" stroke="#000" stroke-width="1.4"/>
<line x1="222.80" y1="229.50" x2="222.80" y2="234.50" stroke="#111" stroke-width="1.2"/>
<line x1="218.40" y1="229.50" x2="227.20" y2="229.50" stroke="#111" stroke-width="1.2"/>
<line x1="218.40" y1="234.50" x2="227.20" y2="234.50" stroke="#111" stroke-width="1.2"/>
<line x1="250.00" y1="263.80" x2="250.00" y2="276.00" stroke="#111" stroke-width="1.2"/>
<line x1="245.60" y1="263.80" x2="254.40" y2="263.80" stroke="#111" stroke-width="1.2"/>
<line x1="245.60" y1="276.00" x2="254.40" y2="276.00" stroke="#111" stroke-width="1.2"/>
<line x1="277.90" y1="269.30" x2="277.90" y2="278.00" stroke="#111" stroke-width="1.2"/>
<line x1="273.50" y1="269.30" x2="282.30" y2="269.30" stroke="#111" stroke-width="1.2"/>
<line x1="273.50" y1="278.00" x2="282.30" y2="278.00" stroke="#111" stroke-width="1.2"/>
<line x1="304.80" y1="247.00" x2="304.80" y2="251.00" stroke="#111" stroke-width="1.2"/>
<line x1="300.40" y1="247.00" x2="309.20" y2="247.00" stroke="#111" stroke-width="1.2"/>
<line x1="300.40" y1="251.00" x2="309.20" y2="251.00" stroke="#111" stroke-width="1.2"/>
<circle cx="224.80" cy="223.40" r="4.1" fill="#111" stroke="#fff" stroke-width="0.5"/>
<circle cx="215.90" cy="227.60" r="4.1" fill="#111" stroke="#fff" stroke-width="0.5"/>
<circle cx="228.80" cy="228.50" r="4.1" fill="#111" stroke="#fff" stroke-width="0.5"/>
<circle cx="228.50" cy="233.90" r="4.1" fill="#111" stroke="#fff" stroke-width="0.5"/>
<circle cx="217.60" cy="236.90" r="4.1" fill="#111" stroke="#fff" stroke-width="0.5"/>
<circle cx="217.30" cy="244.20" r="4.1" fill="#111" stroke="#fff" stroke-width="0.5"/>
<circle cx="249.90" cy="247.00" r="4.6" fill="#fff" stroke="#222" stroke-width="1"/>
<circle cx="249.90" cy="258.80" r="4.6" fill="#fff" stroke="#222" stroke-width="1"/>
<circle cx="243.80" cy="279.20" r="4.6" fill="#fff" stroke="#222" stroke-width="1"/>
<circle cx="255.00" cy="282.40" r="4.6" fill="#fff" stroke="#222" stroke-width="1"/>
<circle cx="246.60" cy="291.20" r="4.6" fill="#fff" stroke="#222" stroke-width="1"/>
<circle cx="284.10" cy="259.10" r="4.8" fill="#0a26f5" stroke="#fff" stroke-width="0.5"/>
<circle cx="271.90" cy="267.80" r="4.8" fill="#0a26f5" stroke="#fff" stroke-width="0.5"/>
<circle cx="284.10" cy="270.50" r="4.8" fill="#0a26f5" stroke="#fff" stroke-width="0.5"/>
<circle cx="273.10" cy="280.90" r="4.8" fill="#0a26f5" stroke="#fff" stroke-width="0.5"/>
<circle cx="284.10" cy="281.30" r="4.8" fill="#0a26f5" stroke="#fff" stroke-width="0.5"/>
<circle cx="273.10" cy="289.60" r="4.8" fill="#0a26f5" stroke="#fff" stroke-width="0.5"/>
<circle cx="300.30" cy="237.40" r="4.5" fill="#e5232b" stroke="#fff" stroke-width="0.5"/>
<circle cx="309.70" cy="238.30" r="4.5" fill="#e5232b" stroke="#fff" stroke-width="0.5"/>
<circle cx="295.30" cy="246.80" r="4.5" fill="#e5232b" stroke="#fff" stroke-width="0.5"/>
<circle cx="299.60" cy="245.70" r="4.5" fill="#e5232b" stroke="#fff" stroke-width="0.5"/>
<circle cx="310.10" cy="247.70" r="4.5" fill="#e5232b" stroke="#fff" stroke-width="0.5"/>
<circle cx="312.10" cy="244.90" r="4.5" fill="#e5232b" stroke="#fff" stroke-width="0.5"/>
<rect x="205.70" y="350.00" width="113.20" height="25.90" fill="#fff" stroke="#000" stroke-width="1.6"/>
<line x1="205.70" y1="362.70" x2="318.90" y2="362.70" stroke="#000" stroke-width="1.6"/>
<line x1="263.20" y1="350.00" x2="263.20" y2="362.70" stroke="#000" stroke-width="1.6"/>
<line x1="289.50" y1="350.00" x2="289.50" y2="362.70" stroke="#000" stroke-width="1.6"/>
<line x1="236.00" y1="362.70" x2="236.00" y2="375.90" stroke="#000" stroke-width="1.6"/>
<text x="203.10" y="359.30" font-size="8.3" text-anchor="end" fill="#1e1e1e">Antibody</text>
<text x="203.10" y="373.20" font-size="8.3" text-anchor="end" fill="#1e1e1e">H1573</text>
<line x1="232.00" y1="356.35" x2="240.60" y2="356.35" stroke="#222" stroke-width="1.5"/>
<text x="277.00" y="359.30" font-size="8.3" text-anchor="middle" fill="#1e1e1e">IgG</text>
<text x="303.90" y="359.30" font-size="8.3" text-anchor="middle" fill="#1e1e1e">GDF15</text>
<text x="221.30" y="373.20" font-size="6.85" text-anchor="middle" fill="#1e1e1e">ΔGDF15</text>
<text x="277.00" y="373.20" font-size="8.3" text-anchor="middle" fill="#1e1e1e">Parental</text>
<text x="337.50" y="200.80" font-size="14.5" text-anchor="start" font-weight="bold" fill="#111">G</text>
<line x1="360.90" y1="209.90" x2="360.90" y2="333.60" stroke="#000" stroke-width="1.7"/>
<line x1="357.70" y1="333.60" x2="364.10" y2="333.60" stroke="#000" stroke-width="1.7"/>
<line x1="360.90" y1="341.00" x2="360.90" y2="349.70" stroke="#000" stroke-width="1.7"/>
<line x1="357.70" y1="341.00" x2="364.10" y2="341.00" stroke="#000" stroke-width="1.7"/>
<line x1="360.05" y1="209.90" x2="364.40" y2="209.90" stroke="#000" stroke-width="1.7"/>
<text x="357.90" y="213.10" font-size="8.4" text-anchor="end" fill="#1e1e1e">1.2</text>
<line x1="360.05" y1="239.00" x2="364.40" y2="239.00" stroke="#000" stroke-width="1.7"/>
<text x="357.90" y="242.20" font-size="8.4" text-anchor="end" fill="#1e1e1e">1.0</text>
<line x1="360.05" y1="268.10" x2="364.40" y2="268.10" stroke="#000" stroke-width="1.7"/>
<text x="357.90" y="271.30" font-size="8.4" text-anchor="end" fill="#1e1e1e">0.8</text>
<line x1="360.05" y1="297.20" x2="364.40" y2="297.20" stroke="#000" stroke-width="1.7"/>
<text x="357.90" y="300.40" font-size="8.4" text-anchor="end" fill="#1e1e1e">0.6</text>
<line x1="360.05" y1="326.30" x2="364.40" y2="326.30" stroke="#000" stroke-width="1.7"/>
<text x="357.90" y="329.50" font-size="8.4" text-anchor="end" fill="#1e1e1e">0.4</text>
<text x="357.90" y="350.30" font-size="8.4" text-anchor="end" fill="#1e1e1e">0</text>
<line x1="360.90" y1="349.70" x2="518.00" y2="349.70" stroke="#000" stroke-width="1.7"/>
<line x1="386.10" y1="349.70" x2="386.10" y2="345.80" stroke="#000" stroke-width="1.6"/>
<line x1="417.60" y1="349.70" x2="417.60" y2="345.80" stroke="#000" stroke-width="1.6"/>
<line x1="449.10" y1="349.70" x2="449.10" y2="345.80" stroke="#000" stroke-width="1.6"/>
<line x1="480.60" y1="349.70" x2="480.60" y2="345.80" stroke="#000" stroke-width="1.6"/>
<line x1="512.10" y1="349.70" x2="512.10" y2="345.80" stroke="#000" stroke-width="1.6"/>
<text x="362.10" y="359.20" font-size="8.2" text-anchor="middle" fill="#1e1e1e">0</text>
<text x="386.10" y="359.20" font-size="8.2" text-anchor="middle" fill="#1e1e1e">5</text>
<text x="417.60" y="359.20" font-size="8.2" text-anchor="middle" fill="#1e1e1e">10</text>
<text x="449.10" y="359.20" font-size="8.2" text-anchor="middle" fill="#1e1e1e">15</text>
<text x="480.60" y="359.20" font-size="8.2" text-anchor="middle" fill="#1e1e1e">20</text>
<text x="512.10" y="359.20" font-size="8.2" text-anchor="middle" fill="#1e1e1e">25</text>
<text x="427.20" y="368.40" font-size="8.5" text-anchor="middle" fill="#1e1e1e">Days After Tumor Implantation</text>
<text x="344.00" y="285.30" font-size="8.45" text-anchor="middle" fill="#1e1e1e" transform="rotate(-90 344.00 285.30)">Relative Fat Mass</text>
<text x="444.70" y="196.00" font-size="8.5" text-anchor="middle" fill="#1e1e1e">Antibody Treatment</text>
<line x1="405.60" y1="197.20" x2="405.60" y2="207.90" stroke="#17a253" stroke-width="2.0"/>
<path d="M401.60,205.40 L405.60,212.20 L409.60,205.40 L406.60,207.60 L404.60,207.60 Z" fill="#17a253"/>
<line x1="444.40" y1="197.20" x2="444.40" y2="207.90" stroke="#17a253" stroke-width="2.0"/>
<path d="M440.40,205.40 L444.40,212.20 L448.40,205.40 L445.40,207.60 L443.40,207.60 Z" fill="#17a253"/>
<line x1="486.40" y1="197.20" x2="486.40" y2="207.90" stroke="#17a253" stroke-width="2.0"/>
<path d="M482.40,205.40 L486.40,212.20 L490.40,205.40 L487.40,207.60 L485.40,207.60 Z" fill="#17a253"/>
<line x1="386.10" y1="217.50" x2="386.10" y2="230.90" stroke="#444" stroke-width="1.0"/>
<line x1="381.70" y1="217.50" x2="390.50" y2="217.50" stroke="#444" stroke-width="1.0"/>
<line x1="381.70" y1="230.90" x2="390.50" y2="230.90" stroke="#444" stroke-width="1.0"/>
<line x1="386.10" y1="237.50" x2="386.10" y2="252.30" stroke="#444" stroke-width="1.0"/>
<line x1="381.70" y1="237.50" x2="390.50" y2="237.50" stroke="#444" stroke-width="1.0"/>
<line x1="381.70" y1="252.30" x2="390.50" y2="252.30" stroke="#444" stroke-width="1.0"/>
<line x1="411.30" y1="229.20" x2="411.30" y2="241.00" stroke="#444" stroke-width="1.0"/>
<line x1="406.90" y1="229.20" x2="415.70" y2="229.20" stroke="#444" stroke-width="1.0"/>
<line x1="406.90" y1="241.00" x2="415.70" y2="241.00" stroke="#444" stroke-width="1.0"/>
<line x1="411.30" y1="236.00" x2="411.30" y2="249.00" stroke="#444" stroke-width="1.0"/>
<line x1="406.90" y1="236.00" x2="415.70" y2="236.00" stroke="#444" stroke-width="1.0"/>
<line x1="406.90" y1="249.00" x2="415.70" y2="249.00" stroke="#444" stroke-width="1.0"/>
<line x1="436.50" y1="208.90" x2="436.50" y2="219.40" stroke="#444" stroke-width="1.0"/>
<line x1="432.10" y1="208.90" x2="440.90" y2="208.90" stroke="#444" stroke-width="1.0"/>
<line x1="432.10" y1="219.40" x2="440.90" y2="219.40" stroke="#444" stroke-width="1.0"/>
<line x1="436.50" y1="219.40" x2="436.50" y2="233.00" stroke="#444" stroke-width="1.0"/>
<line x1="432.10" y1="219.40" x2="440.90" y2="219.40" stroke="#444" stroke-width="1.0"/>
<line x1="432.10" y1="233.00" x2="440.90" y2="233.00" stroke="#444" stroke-width="1.0"/>
<line x1="436.50" y1="222.00" x2="436.50" y2="248.90" stroke="#444" stroke-width="1.0"/>
<line x1="432.10" y1="222.00" x2="440.90" y2="222.00" stroke="#444" stroke-width="1.0"/>
<line x1="432.10" y1="248.90" x2="440.90" y2="248.90" stroke="#444" stroke-width="1.0"/>
<line x1="436.50" y1="258.90" x2="436.50" y2="270.30" stroke="#444" stroke-width="1.0"/>
<line x1="432.10" y1="258.90" x2="440.90" y2="258.90" stroke="#444" stroke-width="1.0"/>
<line x1="432.10" y1="270.30" x2="440.90" y2="270.30" stroke="#444" stroke-width="1.0"/>
<line x1="461.70" y1="210.50" x2="461.70" y2="222.20" stroke="#444" stroke-width="1.0"/>
<line x1="457.30" y1="210.50" x2="466.10" y2="210.50" stroke="#444" stroke-width="1.0"/>
<line x1="457.30" y1="222.20" x2="466.10" y2="222.20" stroke="#444" stroke-width="1.0"/>
<line x1="461.70" y1="234.20" x2="461.70" y2="255.00" stroke="#444" stroke-width="1.0"/>
<line x1="457.30" y1="234.20" x2="466.10" y2="234.20" stroke="#444" stroke-width="1.0"/>
<line x1="457.30" y1="255.00" x2="466.10" y2="255.00" stroke="#444" stroke-width="1.0"/>
<line x1="461.70" y1="256.20" x2="461.70" y2="268.00" stroke="#444" stroke-width="1.0"/>
<line x1="457.30" y1="256.20" x2="466.10" y2="256.20" stroke="#444" stroke-width="1.0"/>
<line x1="457.30" y1="268.00" x2="466.10" y2="268.00" stroke="#444" stroke-width="1.0"/>
<line x1="461.70" y1="265.00" x2="461.70" y2="277.00" stroke="#444" stroke-width="1.0"/>
<line x1="457.30" y1="265.00" x2="466.10" y2="265.00" stroke="#444" stroke-width="1.0"/>
<line x1="457.30" y1="277.00" x2="466.10" y2="277.00" stroke="#444" stroke-width="1.0"/>
<line x1="486.90" y1="211.00" x2="486.90" y2="222.50" stroke="#444" stroke-width="1.0"/>
<line x1="482.50" y1="211.00" x2="491.30" y2="211.00" stroke="#444" stroke-width="1.0"/>
<line x1="482.50" y1="222.50" x2="491.30" y2="222.50" stroke="#444" stroke-width="1.0"/>
<line x1="486.90" y1="221.40" x2="486.90" y2="247.90" stroke="#444" stroke-width="1.0"/>
<line x1="482.50" y1="221.40" x2="491.30" y2="221.40" stroke="#444" stroke-width="1.0"/>
<line x1="482.50" y1="247.90" x2="491.30" y2="247.90" stroke="#444" stroke-width="1.0"/>
<line x1="486.90" y1="260.70" x2="486.90" y2="276.70" stroke="#444" stroke-width="1.0"/>
<line x1="482.50" y1="260.70" x2="491.30" y2="260.70" stroke="#444" stroke-width="1.0"/>
<line x1="482.50" y1="276.70" x2="491.30" y2="276.70" stroke="#444" stroke-width="1.0"/>
<line x1="486.90" y1="286.30" x2="486.90" y2="295.50" stroke="#444" stroke-width="1.0"/>
<line x1="482.50" y1="286.30" x2="491.30" y2="286.30" stroke="#444" stroke-width="1.0"/>
<line x1="482.50" y1="295.50" x2="491.30" y2="295.50" stroke="#444" stroke-width="1.0"/>
<line x1="499.50" y1="209.70" x2="499.50" y2="224.60" stroke="#444" stroke-width="1.0"/>
<line x1="495.10" y1="209.70" x2="503.90" y2="209.70" stroke="#444" stroke-width="1.0"/>
<line x1="495.10" y1="224.60" x2="503.90" y2="224.60" stroke="#444" stroke-width="1.0"/>
<line x1="499.50" y1="228.60" x2="499.50" y2="251.40" stroke="#444" stroke-width="1.0"/>
<line x1="495.10" y1="228.60" x2="503.90" y2="228.60" stroke="#444" stroke-width="1.0"/>
<line x1="495.10" y1="251.40" x2="503.90" y2="251.40" stroke="#444" stroke-width="1.0"/>
<line x1="499.50" y1="261.50" x2="499.50" y2="283.90" stroke="#444" stroke-width="1.0"/>
<line x1="495.10" y1="261.50" x2="503.90" y2="261.50" stroke="#444" stroke-width="1.0"/>
<line x1="495.10" y1="283.90" x2="503.90" y2="283.90" stroke="#444" stroke-width="1.0"/>
<line x1="499.50" y1="292.70" x2="499.50" y2="305.50" stroke="#444" stroke-width="1.0"/>
<line x1="495.10" y1="292.70" x2="503.90" y2="292.70" stroke="#444" stroke-width="1.0"/>
<line x1="495.10" y1="305.50" x2="503.90" y2="305.50" stroke="#444" stroke-width="1.0"/>
<line x1="512.10" y1="218.20" x2="512.10" y2="232.20" stroke="#444" stroke-width="1.0"/>
<line x1="507.70" y1="218.20" x2="516.50" y2="218.20" stroke="#444" stroke-width="1.0"/>
<line x1="507.70" y1="232.20" x2="516.50" y2="232.20" stroke="#444" stroke-width="1.0"/>
<line x1="512.10" y1="232.20" x2="512.10" y2="253.90" stroke="#444" stroke-width="1.0"/>
<line x1="507.70" y1="232.20" x2="516.50" y2="232.20" stroke="#444" stroke-width="1.0"/>
<line x1="507.70" y1="253.90" x2="516.50" y2="253.90" stroke="#444" stroke-width="1.0"/>
<line x1="512.10" y1="271.60" x2="512.10" y2="287.60" stroke="#444" stroke-width="1.0"/>
<line x1="507.70" y1="271.60" x2="516.50" y2="271.60" stroke="#444" stroke-width="1.0"/>
<line x1="507.70" y1="287.60" x2="516.50" y2="287.60" stroke="#444" stroke-width="1.0"/>
<line x1="512.10" y1="296.20" x2="512.10" y2="307.90" stroke="#444" stroke-width="1.0"/>
<line x1="507.70" y1="296.20" x2="516.50" y2="296.20" stroke="#444" stroke-width="1.0"/>
<line x1="507.70" y1="307.90" x2="516.50" y2="307.90" stroke="#444" stroke-width="1.0"/>
<path d="M360.9,238.8 386.1,223.9 411.3,240.7 436.5,230.5 461.7,262.3 486.9,268.7 499.5,272.7 512.1,279.6" stroke="#111" stroke-width="2.2" fill="none" stroke-dasharray="4.5,3"/>
<path d="M360.9,238.8 386.1,234.5 411.3,253.2 436.5,264.4 461.7,270.3 486.9,290.8 499.5,299.1 512.1,302.0" stroke="#0a26f5" stroke-width="2.2" fill="none"/>
<path d="M360.9,238.8 386.1,244.0 411.3,242.3 436.5,226.3 461.7,245.4 486.9,234.7 499.5,239.5 512.1,241.1" stroke="#111" stroke-width="2.2" fill="none"/>
<path d="M360.9,238.8 386.1,236.8 411.3,235.5 436.5,214.2 461.7,216.6 486.9,216.9 499.5,216.9 512.1,226.7" stroke="#e5232b" stroke-width="2.2" fill="none"/>
<circle cx="360.90" cy="238.80" r="4.2" fill="#0a26f5" stroke="#fff" stroke-width="0.5"/>
<circle cx="386.10" cy="234.50" r="4.2" fill="#0a26f5" stroke="#fff" stroke-width="0.5"/>
<circle cx="411.30" cy="253.20" r="4.2" fill="#0a26f5" stroke="#fff" stroke-width="0.5"/>
<circle cx="436.50" cy="264.40" r="4.2" fill="#0a26f5" stroke="#fff" stroke-width="0.5"/>
<circle cx="461.70" cy="270.30" r="4.2" fill="#0a26f5" stroke="#fff" stroke-width="0.5"/>
<circle cx="486.90" cy="290.80" r="4.2" fill="#0a26f5" stroke="#fff" stroke-width="0.5"/>
<circle cx="499.50" cy="299.10" r="4.2" fill="#0a26f5" stroke="#fff" stroke-width="0.5"/>
<circle cx="512.10" cy="302.00" r="4.2" fill="#0a26f5" stroke="#fff" stroke-width="0.5"/>
<circle cx="360.90" cy="238.80" r="4.0" fill="#fff" stroke="#222" stroke-width="1"/>
<circle cx="386.10" cy="223.90" r="4.0" fill="#fff" stroke="#222" stroke-width="1"/>
<circle cx="411.30" cy="240.70" r="4.0" fill="#fff" stroke="#222" stroke-width="1"/>
<circle cx="436.50" cy="230.50" r="4.0" fill="#fff" stroke="#222" stroke-width="1"/>
<circle cx="461.70" cy="262.30" r="4.0" fill="#fff" stroke="#222" stroke-width="1"/>
<circle cx="486.90" cy="268.70" r="4.0" fill="#fff" stroke="#222" stroke-width="1"/>
<circle cx="499.50" cy="272.70" r="4.0" fill="#fff" stroke="#222" stroke-width="1"/>
<circle cx="512.10" cy="279.60" r="4.0" fill="#fff" stroke="#222" stroke-width="1"/>
<circle cx="360.90" cy="238.80" r="4.2" fill="#e5232b" stroke="#fff" stroke-width="0.5"/>
<circle cx="386.10" cy="236.80" r="4.2" fill="#e5232b" stroke="#fff" stroke-width="0.5"/>
<circle cx="411.30" cy="235.50" r="4.2" fill="#e5232b" stroke="#fff" stroke-width="0.5"/>
<circle cx="436.50" cy="214.20" r="4.2" fill="#e5232b" stroke="#fff" stroke-width="0.5"/>
<circle cx="461.70" cy="216.60" r="4.2" fill="#e5232b" stroke="#fff" stroke-width="0.5"/>
<circle cx="486.90" cy="216.90" r="4.2" fill="#e5232b" stroke="#fff" stroke-width="0.5"/>
<circle cx="499.50" cy="216.90" r="4.2" fill="#e5232b" stroke="#fff" stroke-width="0.5"/>
<circle cx="512.10" cy="226.70" r="4.2" fill="#e5232b" stroke="#fff" stroke-width="0.5"/>
<circle cx="360.90" cy="238.80" r="4.2" fill="#111" stroke="#fff" stroke-width="0.5"/>
<circle cx="386.10" cy="244.00" r="4.2" fill="#111" stroke="#fff" stroke-width="0.5"/>
<circle cx="411.30" cy="242.30" r="4.2" fill="#111" stroke="#fff" stroke-width="0.5"/>
<circle cx="436.50" cy="226.30" r="4.2" fill="#111" stroke="#fff" stroke-width="0.5"/>
<circle cx="461.70" cy="245.40" r="4.2" fill="#111" stroke="#fff" stroke-width="0.5"/>
<circle cx="486.90" cy="234.70" r="4.2" fill="#111" stroke="#fff" stroke-width="0.5"/>
<circle cx="499.50" cy="239.50" r="4.2" fill="#111" stroke="#fff" stroke-width="0.5"/>
<circle cx="512.10" cy="241.10" r="4.2" fill="#111" stroke="#fff" stroke-width="0.5"/>
<text x="376.80" y="291.40" font-size="8.5" text-anchor="start" fill="#1e1e1e">Tumor Line: Antibody</text>
<line x1="376.80" y1="292.90" x2="456.50" y2="292.90" stroke="#555" stroke-width="0.9"/>
<circle cx="372.60" cy="303.70" r="4.2" fill="#111" stroke="#fff" stroke-width="0.5"/>
<circle cx="372.60" cy="315.10" r="3.9" fill="#fff" stroke="#222" stroke-width="1"/>
<circle cx="372.60" cy="325.50" r="4.2" fill="#0a26f5" stroke="#fff" stroke-width="0.5"/>
<circle cx="372.60" cy="337.30" r="4.2" fill="#e5232b" stroke="#fff" stroke-width="0.5"/>
<text x="380.60" y="306.60" font-size="8.5" text-anchor="start" fill="#1e1e1e">H1573<tspan dy="-3.5" font-size="5.5">ΔGDF15</tspan><tspan dy="3.5">; None</tspan></text>
<text x="457.00" y="306.60" font-size="8.3" text-anchor="start" font-style="italic" fill="#1e1e1e">(p=n.s.)</text>
<text x="380.00" y="317.40" font-size="8.5" text-anchor="start" fill="#1e1e1e">H1573; None</text>
<text x="434.80" y="317.40" font-size="8.3" text-anchor="start" font-style="italic" fill="#1e1e1e">(p=0.0041)</text>
<text x="380.00" y="327.80" font-size="8.5" text-anchor="start" fill="#1e1e1e">H1573; IgG</text>
<text x="427.60" y="327.80" font-size="8.3" text-anchor="start" font-style="italic" fill="#1e1e1e">(p=0.0001)</text>
<text x="380.00" y="340.40" font-size="8.5" text-anchor="start" fill="#1e1e1e">H1573; GDF15</text>
<text x="538.40" y="204.40" font-size="14.5" text-anchor="start" font-weight="bold" fill="#111">H</text>
<text x="597.60" y="213.60" font-size="8.5" text-anchor="middle" fill="#1e1e1e">GDF15 Antibody</text>
<text x="597.60" y="223.80" font-size="8.5" text-anchor="middle" fill="#1e1e1e">Cachexia Rescue Experiment</text>
<line x1="541.20" y1="225.50" x2="653.20" y2="225.50" stroke="#333" stroke-width="0.8"/>
<text x="597.60" y="239.80" font-size="8.5" text-anchor="middle" fill="#1e1e1e">H1573 Xenograft Transplant</text>
<text x="597.60" y="249.40" font-size="8.5" text-anchor="middle" fill="#1e1e1e">NOD SCID Mice</text>
<line x1="598.20" y1="255.50" x2="598.20" y2="272.90" stroke="#111" stroke-width="2"/>
<path d="M590.20,269.10 Q595.40,271.96 598.20,271.76 Q601.00,271.96 606.20,269.10 L598.20,278.60 Z" fill="#111"/>
<text x="597.60" y="288.70" font-size="8.5" text-anchor="middle" fill="#1e1e1e">20% Fat Mass Loss</text>
<line x1="598.20" y1="291.90" x2="598.20" y2="309.50" stroke="#111" stroke-width="2"/>
<path d="M590.20,305.70 Q595.40,308.56 598.20,308.36 Q601.00,308.56 606.20,305.70 L598.20,315.20 Z" fill="#111"/>
<text x="597.60" y="325.20" font-size="8.5" text-anchor="middle" fill="#1e1e1e">GDF15 Antibody</text>
<text x="597.60" y="335.20" font-size="8.5" text-anchor="middle" fill="#1e1e1e">SC every 7days</text>
<line x1="598.20" y1="339.20" x2="598.20" y2="357.20" stroke="#111" stroke-width="2"/>
<path d="M590.20,353.40 Q595.40,356.26 598.20,356.06 Q601.00,356.26 606.20,353.40 L598.20,362.90 Z" fill="#111"/>
<text x="597.60" y="372.50" font-size="8.5" text-anchor="middle" fill="#1e1e1e">Cachexia Evaluation</text>
<text x="1.00" y="395.80" font-size="14.5" text-anchor="start" font-weight="bold" fill="#111">I</text>
<line x1="27.30" y1="393.80" x2="27.30" y2="535.30" stroke="#000" stroke-width="1.7"/>
<line x1="26.45" y1="394.10" x2="30.80" y2="394.10" stroke="#000" stroke-width="1.7"/>
<text x="23.30" y="396.60" font-size="8.4" text-anchor="end" fill="#1e1e1e">0.8</text>
<line x1="26.45" y1="429.40" x2="30.80" y2="429.40" stroke="#000" stroke-width="1.7"/>
<text x="23.30" y="431.90" font-size="8.4" text-anchor="end" fill="#1e1e1e">0.6</text>
<line x1="26.45" y1="464.70" x2="30.80" y2="464.70" stroke="#000" stroke-width="1.7"/>
<text x="23.30" y="467.20" font-size="8.4" text-anchor="end" fill="#1e1e1e">0.4</text>
<line x1="26.45" y1="500.00" x2="30.80" y2="500.00" stroke="#000" stroke-width="1.7"/>
<text x="23.30" y="502.50" font-size="8.4" text-anchor="end" fill="#1e1e1e">0.2</text>
<line x1="26.45" y1="532.00" x2="30.80" y2="532.00" stroke="#000" stroke-width="1.7"/>
<text x="23.30" y="534.50" font-size="8.4" text-anchor="end" fill="#1e1e1e">0</text>
<line x1="27.30" y1="535.50" x2="197.00" y2="535.50" stroke="#000" stroke-width="1.7"/>
<text x="30.00" y="544.00" font-size="8.1" text-anchor="middle" fill="#1e1e1e">0</text>
<line x1="51.10" y1="535.50" x2="51.10" y2="532.00" stroke="#000" stroke-width="1.6"/>
<text x="51.10" y="544.00" font-size="8.1" text-anchor="middle" fill="#1e1e1e">5</text>
<line x1="75.30" y1="535.50" x2="75.30" y2="532.00" stroke="#000" stroke-width="1.6"/>
<text x="75.30" y="544.00" font-size="8.1" text-anchor="middle" fill="#1e1e1e">10</text>
<line x1="100.10" y1="535.50" x2="100.10" y2="532.00" stroke="#000" stroke-width="1.6"/>
<text x="100.10" y="544.00" font-size="8.1" text-anchor="middle" fill="#1e1e1e">15</text>
<line x1="124.10" y1="535.50" x2="124.10" y2="532.00" stroke="#000" stroke-width="1.6"/>
<text x="124.10" y="544.00" font-size="8.1" text-anchor="middle" fill="#1e1e1e">20</text>
<line x1="148.40" y1="535.50" x2="148.40" y2="532.00" stroke="#000" stroke-width="1.6"/>
<text x="148.40" y="544.00" font-size="8.1" text-anchor="middle" fill="#1e1e1e">25</text>
<line x1="172.60" y1="535.50" x2="172.60" y2="532.00" stroke="#000" stroke-width="1.6"/>
<text x="172.60" y="544.00" font-size="8.1" text-anchor="middle" fill="#1e1e1e">30</text>
<line x1="196.60" y1="535.50" x2="196.60" y2="532.00" stroke="#000" stroke-width="1.6"/>
<text x="196.60" y="544.00" font-size="8.1" text-anchor="middle" fill="#1e1e1e">35</text>
<text x="106.60" y="553.80" font-size="8.5" text-anchor="middle" fill="#1e1e1e">Days After Tumor Implantation</text>
<text x="9.80" y="469.80" font-size="8.2" text-anchor="middle" fill="#1e1e1e" transform="rotate(-90 9.80 469.80)">Tumor Volume (cm<tspan dy="-3" font-size="5.5">3</tspan><tspan dy="3">)</tspan></text>
<text x="134.20" y="394.40" font-size="8.5" text-anchor="middle" fill="#1e1e1e">Antibody Treatment</text>
<line x1="100.40" y1="397.20" x2="100.40" y2="408.10" stroke="#17a253" stroke-width="2.0"/>
<path d="M96.40,405.60 L100.40,412.40 L104.40,405.60 L101.40,407.80 L99.40,407.80 Z" fill="#17a253"/>
<line x1="134.10" y1="397.20" x2="134.10" y2="408.10" stroke="#17a253" stroke-width="2.0"/>
<path d="M130.10,405.60 L134.10,412.40 L138.10,405.60 L135.10,407.80 L133.10,407.80 Z" fill="#17a253"/>
<line x1="168.60" y1="397.20" x2="168.60" y2="408.10" stroke="#17a253" stroke-width="2.0"/>
<path d="M164.60,405.60 L168.60,412.40 L172.60,405.60 L169.60,407.80 L167.60,407.80 Z" fill="#17a253"/>
<line x1="124.30" y1="440.40" x2="124.30" y2="468.50" stroke="#111" stroke-width="1.1"/>
<line x1="119.90" y1="440.40" x2="128.70" y2="440.40" stroke="#111" stroke-width="1.1"/>
<line x1="119.90" y1="468.50" x2="128.70" y2="468.50" stroke="#111" stroke-width="1.1"/>
<line x1="143.60" y1="429.60" x2="143.60" y2="465.30" stroke="#111" stroke-width="1.1"/>
<line x1="139.20" y1="429.60" x2="148.00" y2="429.60" stroke="#111" stroke-width="1.1"/>
<line x1="139.20" y1="465.30" x2="148.00" y2="465.30" stroke="#111" stroke-width="1.1"/>
<line x1="163.20" y1="422.40" x2="163.20" y2="453.20" stroke="#111" stroke-width="1.1"/>
<line x1="158.80" y1="422.40" x2="167.60" y2="422.40" stroke="#111" stroke-width="1.1"/>
<line x1="158.80" y1="453.20" x2="167.60" y2="453.20" stroke="#111" stroke-width="1.1"/>
<line x1="182.60" y1="402.40" x2="182.60" y2="435.70" stroke="#111" stroke-width="1.1"/>
<line x1="178.20" y1="402.40" x2="187.00" y2="402.40" stroke="#111" stroke-width="1.1"/>
<line x1="178.20" y1="435.70" x2="187.00" y2="435.70" stroke="#111" stroke-width="1.1"/>
<line x1="100.20" y1="477.00" x2="100.20" y2="495.00" stroke="#111" stroke-width="1.1"/>
<line x1="95.80" y1="477.00" x2="104.60" y2="477.00" stroke="#111" stroke-width="1.1"/>
<line x1="95.80" y1="495.00" x2="104.60" y2="495.00" stroke="#111" stroke-width="1.1"/>
<line x1="119.90" y1="456.20" x2="128.70" y2="456.20" stroke="#000" stroke-width="1.1"/>
<line x1="139.20" y1="460.60" x2="148.00" y2="460.60" stroke="#000" stroke-width="1.1"/>
<line x1="158.80" y1="449.20" x2="167.60" y2="449.20" stroke="#000" stroke-width="1.1"/>
<line x1="178.20" y1="432.60" x2="187.00" y2="432.60" stroke="#000" stroke-width="1.1"/>
<path d="M75.3,535.3 L100.2,483.9 L124.3,462.0 L143.6,451.0 L163.2,432.6 L182.6,416.3" stroke="#111" stroke-width="2.2" fill="none" stroke-dasharray="4.5,3"/>
<path d="M75.3,535.3 L100.2,473.7 L124.3,451.8 L143.6,442.5 L163.2,443.0 L182.6,421.5" stroke="#0a26f5" stroke-width="2.2" fill="none"/>
<path d="M32.1,535.3 L75.3,535.3 L100.2,488.2 L124.3,463.2 L143.6,455.3 L163.2,440.4 L182.6,427.0" stroke="#e5232b" stroke-width="2.2" fill="none"/>
<circle cx="100.20" cy="483.90" r="4.0" fill="#fff" stroke="#222" stroke-width="1"/>
<circle cx="124.30" cy="462.00" r="4.0" fill="#fff" stroke="#222" stroke-width="1"/>
<circle cx="143.60" cy="451.00" r="4.0" fill="#fff" stroke="#222" stroke-width="1"/>
<circle cx="163.20" cy="432.60" r="4.0" fill="#fff" stroke="#222" stroke-width="1"/>
<circle cx="182.60" cy="416.30" r="4.0" fill="#fff" stroke="#222" stroke-width="1"/>
<circle cx="100.20" cy="473.70" r="4.3" fill="#0a26f5" stroke="#fff" stroke-width="0.5"/>
<circle cx="124.30" cy="451.80" r="4.3" fill="#0a26f5" stroke="#fff" stroke-width="0.5"/>
<circle cx="143.60" cy="442.50" r="4.3" fill="#0a26f5" stroke="#fff" stroke-width="0.5"/>
<circle cx="163.20" cy="443.00" r="4.3" fill="#0a26f5" stroke="#fff" stroke-width="0.5"/>
<circle cx="182.60" cy="421.50" r="4.3" fill="#0a26f5" stroke="#fff" stroke-width="0.5"/>
<circle cx="100.20" cy="488.20" r="4.3" fill="#e5232b" stroke="#fff" stroke-width="0.5"/>
<circle cx="124.30" cy="463.20" r="4.3" fill="#e5232b" stroke="#fff" stroke-width="0.5"/>
<circle cx="143.60" cy="455.30" r="4.3" fill="#e5232b" stroke="#fff" stroke-width="0.5"/>
<circle cx="163.20" cy="440.40" r="4.3" fill="#e5232b" stroke="#fff" stroke-width="0.5"/>
<circle cx="182.60" cy="427.00" r="4.3" fill="#e5232b" stroke="#fff" stroke-width="0.5"/>
<circle cx="32.10" cy="535.30" r="4.3" fill="#e5232b" stroke="#fff" stroke-width="0.5"/>
<circle cx="51.10" cy="535.30" r="4.3" fill="#e5232b" stroke="#fff" stroke-width="0.5"/>
<circle cx="75.30" cy="535.30" r="4.3" fill="#e5232b" stroke="#fff" stroke-width="0.5"/>
<circle cx="100.10" cy="535.50" r="4.2" fill="#111" stroke="#fff" stroke-width="0.5"/>
<circle cx="124.50" cy="535.50" r="4.2" fill="#111" stroke="#fff" stroke-width="0.5"/>
<circle cx="143.50" cy="535.50" r="4.2" fill="#111" stroke="#fff" stroke-width="0.5"/>
<circle cx="163.20" cy="535.50" r="4.2" fill="#111" stroke="#fff" stroke-width="0.5"/>
<circle cx="182.40" cy="535.50" r="4.2" fill="#111" stroke="#fff" stroke-width="0.5"/>
<text x="141.70" y="477.10" font-size="8.5" text-anchor="start" fill="#1e1e1e">Antibody</text>
<line x1="141.70" y1="478.60" x2="174.90" y2="478.60" stroke="#333" stroke-width="0.8"/>
<text x="131.00" y="485.60" font-size="7.9" text-anchor="middle" fill="#1e1e1e" transform="rotate(-90 131.00 485.60)">PBS</text>
<path d="M137.6,481 L134,481 L134,489.8 L137.6,489.8" stroke="#000" stroke-width="1.1" fill="none"/>
<text x="131.00" y="511.00" font-size="8.4" text-anchor="middle" fill="#1e1e1e" transform="rotate(-90 131.00 511.00)">H1573</text>
<path d="M137.6,494.9 L134,494.9 L134,528.1 L137.6,528.1" stroke="#000" stroke-width="1.1" fill="none"/>
<circle cx="143.50" cy="484.70" r="4.2" fill="#111" stroke="#fff" stroke-width="0.5"/>
<circle cx="143.50" cy="500.00" r="3.9" fill="#fff" stroke="#222" stroke-width="1"/>
<circle cx="143.50" cy="511.00" r="4.2" fill="#0a26f5" stroke="#fff" stroke-width="0.5"/>
<circle cx="143.50" cy="523.70" r="4.2" fill="#e5232b" stroke="#fff" stroke-width="0.5"/>
<text x="150.00" y="487.60" font-size="8.5" text-anchor="start" fill="#1e1e1e">None</text>
<text x="150.00" y="503.20" font-size="8.5" text-anchor="start" fill="#1e1e1e">None</text>
<text x="150.00" y="514.00" font-size="8.5" text-anchor="start" fill="#1e1e1e">IgG</text>
<text x="150.00" y="526.30" font-size="8.5" text-anchor="start" fill="#1e1e1e">GDF15</text>
<text x="173.40" y="487.40" font-size="8.3" text-anchor="start" font-style="italic" fill="#1e1e1e">(p&lt;0.001)</text>
<text x="173.40" y="500.80" font-size="8.3" text-anchor="start" font-style="italic" fill="#1e1e1e">(p=n.s.)</text>
<text x="173.40" y="511.80" font-size="8.3" text-anchor="start" font-style="italic" fill="#1e1e1e">(p=n.s.)</text>
<text x="215.20" y="396.40" font-size="14.5" text-anchor="start" font-weight="bold" fill="#111">J</text>
<line x1="241.60" y1="393.40" x2="241.60" y2="535.10" stroke="#000" stroke-width="1.7"/>
<line x1="240.75" y1="396.30" x2="245.10" y2="396.30" stroke="#000" stroke-width="1.7"/>
<text x="238.00" y="399.50" font-size="8.4" text-anchor="end" fill="#1e1e1e">2.0</text>
<line x1="240.75" y1="431.00" x2="245.10" y2="431.00" stroke="#000" stroke-width="1.7"/>
<text x="238.00" y="434.20" font-size="8.4" text-anchor="end" fill="#1e1e1e">1.5</text>
<line x1="240.75" y1="465.70" x2="245.10" y2="465.70" stroke="#000" stroke-width="1.7"/>
<text x="238.00" y="468.90" font-size="8.4" text-anchor="end" fill="#1e1e1e">1.0</text>
<line x1="240.75" y1="500.40" x2="245.10" y2="500.40" stroke="#000" stroke-width="1.7"/>
<text x="238.00" y="503.60" font-size="8.4" text-anchor="end" fill="#1e1e1e">0.5</text>
<text x="225.20" y="471.50" font-size="8.45" text-anchor="middle" fill="#1e1e1e" transform="rotate(-90 225.20 471.50)">Tumor Weight (grams)</text>
<line x1="258.60" y1="390.30" x2="340.30" y2="390.30" stroke="#3a3a3a" stroke-width="1.6"/>
<text x="299.45" y="387.80" font-size="7.0" text-anchor="middle" fill="#1e1e1e">&lt;0.0001</text>
<line x1="285.50" y1="400.40" x2="340.30" y2="400.40" stroke="#3a3a3a" stroke-width="1.6"/>
<text x="312.90" y="397.90" font-size="7.0" text-anchor="middle" fill="#1e1e1e">n.s.</text>
<line x1="314.00" y1="410.00" x2="340.30" y2="410.00" stroke="#3a3a3a" stroke-width="1.6"/>
<text x="327.15" y="407.50" font-size="7.0" text-anchor="middle" fill="#1e1e1e">n.s.</text>
<line x1="285.10" y1="535.10" x2="285.10" y2="531.00" stroke="#000" stroke-width="1.5"/>
<line x1="312.20" y1="535.10" x2="312.20" y2="531.00" stroke="#000" stroke-width="1.5"/>
<line x1="339.80" y1="535.10" x2="339.80" y2="531.00" stroke="#000" stroke-width="1.5"/>
<line x1="284.60" y1="440.30" x2="284.60" y2="460.50" stroke="#111" stroke-width="1.1"/>
<line x1="279.00" y1="440.30" x2="290.20" y2="440.30" stroke="#111" stroke-width="1.1"/>
<line x1="279.00" y1="460.50" x2="290.20" y2="460.50" stroke="#111" stroke-width="1.1"/>
<circle cx="284.60" cy="410.90" r="4.2" fill="#fff" stroke="#222" stroke-width="1"/>
<circle cx="284.60" cy="434.70" r="4.2" fill="#fff" stroke="#222" stroke-width="1"/>
<circle cx="284.60" cy="449.40" r="4.2" fill="#fff" stroke="#222" stroke-width="1"/>
<circle cx="284.60" cy="464.80" r="4.2" fill="#fff" stroke="#222" stroke-width="1"/>
<circle cx="289.20" cy="470.10" r="4.2" fill="#fff" stroke="#222" stroke-width="1"/>
<circle cx="279.90" cy="474.20" r="4.2" fill="#fff" stroke="#222" stroke-width="1"/>
<line x1="276.20" y1="450.60" x2="293.60" y2="450.60" stroke="#111" stroke-width="1.9"/>
<circle cx="308.50" cy="442.20" r="4.2" fill="#0a26f5" stroke="#fff" stroke-width="0.5"/>
<circle cx="314.70" cy="441.60" r="4.2" fill="#0a26f5" stroke="#fff" stroke-width="0.5"/>
<circle cx="312.20" cy="456.50" r="4.2" fill="#0a26f5" stroke="#fff" stroke-width="0.5"/>
<circle cx="312.20" cy="471.30" r="4.2" fill="#0a26f5" stroke="#fff" stroke-width="0.5"/>
<circle cx="307.80" cy="476.30" r="4.2" fill="#0a26f5" stroke="#fff" stroke-width="0.5"/>
<circle cx="316.20" cy="476.30" r="4.2" fill="#0a26f5" stroke="#fff" stroke-width="0.5"/>
<line x1="312.20" y1="454.20" x2="312.20" y2="467.40" stroke="#111" stroke-width="1.1"/>
<line x1="306.60" y1="454.20" x2="317.80" y2="454.20" stroke="#111" stroke-width="1.1"/>
<line x1="306.60" y1="467.40" x2="317.80" y2="467.40" stroke="#111" stroke-width="1.1"/>
<line x1="303.50" y1="460.80" x2="320.90" y2="460.80" stroke="#111" stroke-width="1.9"/>
<circle cx="339.10" cy="419.50" r="4.2" fill="#e5232b" stroke="#fff" stroke-width="0.5"/>
<circle cx="339.10" cy="441.90" r="4.2" fill="#e5232b" stroke="#fff" stroke-width="0.5"/>
<circle cx="331.00" cy="456.10" r="4.2" fill="#e5232b" stroke="#fff" stroke-width="0.5"/>
<circle cx="333.90" cy="459.60" r="4.2" fill="#e5232b" stroke="#fff" stroke-width="0.5"/>
<circle cx="344.80" cy="458.30" r="4.2" fill="#e5232b" stroke="#fff" stroke-width="0.5"/>
<circle cx="339.10" cy="485.60" r="4.2" fill="#e5232b" stroke="#fff" stroke-width="0.5"/>
<line x1="339.10" y1="444.00" x2="339.10" y2="462.70" stroke="#111" stroke-width="1.1"/>
<line x1="333.50" y1="444.00" x2="344.70" y2="444.00" stroke="#111" stroke-width="1.1"/>
<line x1="333.50" y1="462.70" x2="344.70" y2="462.70" stroke="#111" stroke-width="1.1"/>
<line x1="334.50" y1="453.30" x2="347.90" y2="453.30" stroke="#111" stroke-width="1.9"/>
<rect x="241.10" y="535.10" width="115.50" height="25.80" fill="#fff" stroke="#000" stroke-width="1.6"/>
<line x1="241.10" y1="547.40" x2="356.60" y2="547.40" stroke="#000" stroke-width="1.6"/>
<line x1="271.50" y1="535.10" x2="271.50" y2="547.40" stroke="#000" stroke-width="1.6"/>
<line x1="298.80" y1="535.10" x2="298.80" y2="547.40" stroke="#000" stroke-width="1.6"/>
<line x1="326.60" y1="535.10" x2="326.60" y2="547.40" stroke="#000" stroke-width="1.6"/>
<line x1="271.50" y1="547.40" x2="271.50" y2="560.90" stroke="#000" stroke-width="1.6"/>
<text x="238.50" y="544.00" font-size="8.3" text-anchor="end" fill="#1e1e1e">Antibody</text>
<text x="238.50" y="558.20" font-size="8.3" text-anchor="end" fill="#1e1e1e">H1573</text>
<line x1="252.20" y1="541.25" x2="260.80" y2="541.25" stroke="#222" stroke-width="1.5"/>
<line x1="280.30" y1="541.25" x2="288.90" y2="541.25" stroke="#222" stroke-width="1.5"/>
<text x="312.60" y="544.00" font-size="8.3" text-anchor="middle" fill="#1e1e1e">IgG</text>
<text x="341.70" y="544.00" font-size="8.3" text-anchor="middle" fill="#1e1e1e">GDF15</text>
<line x1="252.20" y1="554.15" x2="260.80" y2="554.15" stroke="#222" stroke-width="1.5"/>
<line x1="308.50" y1="554.15" x2="317.50" y2="554.15" stroke="#222" stroke-width="1.6"/>
<line x1="313.00" y1="549.65" x2="313.00" y2="558.65" stroke="#222" stroke-width="1.6"/>
<circle cx="250.80" cy="535.10" r="3.9" fill="#fff" stroke="#222" stroke-width="0.9"/>
<circle cx="253.10" cy="535.10" r="3.9" fill="#fff" stroke="#222" stroke-width="0.9"/>
<circle cx="255.40" cy="535.10" r="3.9" fill="#fff" stroke="#222" stroke-width="0.9"/>
<circle cx="257.70" cy="535.10" r="3.9" fill="#fff" stroke="#222" stroke-width="0.9"/>
<circle cx="260.00" cy="535.10" r="3.9" fill="#fff" stroke="#222" stroke-width="0.9"/>
<circle cx="262.30" cy="535.10" r="4.2" fill="#111" stroke="#fff" stroke-width="0.5"/>
<text x="379.00" y="396.40" font-size="14.5" text-anchor="start" font-weight="bold" fill="#111">K</text>
<line x1="407.10" y1="397.10" x2="407.10" y2="535.00" stroke="#000" stroke-width="1.7"/>
<line x1="406.25" y1="397.10" x2="410.60" y2="397.10" stroke="#000" stroke-width="1.7"/>
<text x="403.70" y="400.30" font-size="8.4" text-anchor="end" fill="#1e1e1e">10</text>
<line x1="406.25" y1="424.68" x2="410.60" y2="424.68" stroke="#000" stroke-width="1.7"/>
<text x="403.70" y="427.88" font-size="8.4" text-anchor="end" fill="#1e1e1e">8</text>
<line x1="406.25" y1="452.26" x2="410.60" y2="452.26" stroke="#000" stroke-width="1.7"/>
<text x="403.70" y="455.46" font-size="8.4" text-anchor="end" fill="#1e1e1e">6</text>
<line x1="406.25" y1="479.84" x2="410.60" y2="479.84" stroke="#000" stroke-width="1.7"/>
<text x="403.70" y="483.04" font-size="8.4" text-anchor="end" fill="#1e1e1e">4</text>
<line x1="406.25" y1="507.42" x2="410.60" y2="507.42" stroke="#000" stroke-width="1.7"/>
<text x="403.70" y="510.62" font-size="8.4" text-anchor="end" fill="#1e1e1e">2</text>
<line x1="406.25" y1="532.80" x2="410.60" y2="532.80" stroke="#000" stroke-width="1.7"/>
<text x="403.70" y="536.00" font-size="8.4" text-anchor="end" fill="#1e1e1e">0</text>
<text x="392.30" y="472.90" font-size="8.55" text-anchor="middle" fill="#1e1e1e" transform="rotate(-90 392.30 472.90)">Serum Human GDF15 (ng/ml)</text>
<line x1="421.90" y1="408.50" x2="503.60" y2="408.50" stroke="#3a3a3a" stroke-width="1.6"/>
<text x="462.75" y="406.00" font-size="7.0" text-anchor="middle" fill="#1e1e1e">0.0277</text>
<line x1="448.80" y1="418.80" x2="503.60" y2="418.80" stroke="#3a3a3a" stroke-width="1.6"/>
<text x="476.20" y="416.30" font-size="7.0" text-anchor="middle" fill="#1e1e1e">&lt;0.0001</text>
<line x1="477.30" y1="428.20" x2="503.60" y2="428.20" stroke="#3a3a3a" stroke-width="1.6"/>
<text x="490.45" y="426.40" font-size="7.0" text-anchor="middle" fill="#1e1e1e">&lt;0.0001</text>
<rect x="440.80" y="455.50" width="16.40" height="80.30" fill="#a6a7aa" stroke="#000" stroke-width="1.6"/>
<line x1="449.00" y1="535.00" x2="449.00" y2="531.20" stroke="#000" stroke-width="1.4"/>
<rect x="468.80" y="467.50" width="16.90" height="68.30" fill="#a6a7aa" stroke="#000" stroke-width="1.6"/>
<line x1="477.25" y1="535.00" x2="477.25" y2="531.20" stroke="#000" stroke-width="1.4"/>
<rect x="496.30" y="520.50" width="16.20" height="15.30" fill="#a6a7aa" stroke="#000" stroke-width="1.6"/>
<line x1="504.40" y1="535.00" x2="504.40" y2="531.20" stroke="#000" stroke-width="1.4"/>
<line x1="449.20" y1="448.50" x2="449.20" y2="466.00" stroke="#111" stroke-width="1.2"/>
<line x1="444.80" y1="448.50" x2="453.60" y2="448.50" stroke="#111" stroke-width="1.2"/>
<line x1="444.80" y1="466.00" x2="453.60" y2="466.00" stroke="#111" stroke-width="1.2"/>
<line x1="477.00" y1="462.50" x2="477.00" y2="468.00" stroke="#111" stroke-width="1.2"/>
<line x1="472.60" y1="462.50" x2="481.40" y2="462.50" stroke="#111" stroke-width="1.2"/>
<line x1="472.60" y1="468.00" x2="481.40" y2="468.00" stroke="#111" stroke-width="1.2"/>
<line x1="504.10" y1="516.50" x2="504.10" y2="523.00" stroke="#111" stroke-width="1.2"/>
<line x1="499.70" y1="516.50" x2="508.50" y2="516.50" stroke="#111" stroke-width="1.2"/>
<line x1="499.70" y1="523.00" x2="508.50" y2="523.00" stroke="#111" stroke-width="1.2"/>
<circle cx="448.80" cy="429.70" r="4.0" fill="#fff" stroke="#222" stroke-width="1"/>
<circle cx="455.30" cy="448.30" r="4.0" fill="#fff" stroke="#222" stroke-width="1"/>
<circle cx="443.00" cy="451.30" r="4.0" fill="#fff" stroke="#222" stroke-width="1"/>
<circle cx="454.20" cy="461.30" r="4.0" fill="#fff" stroke="#222" stroke-width="1"/>
<circle cx="449.20" cy="485.30" r="4.0" fill="#fff" stroke="#222" stroke-width="1"/>
<circle cx="472.20" cy="463.30" r="4.3" fill="#0a26f5" stroke="#fff" stroke-width="0.5"/>
<circle cx="483.00" cy="465.00" r="4.3" fill="#0a26f5" stroke="#fff" stroke-width="0.5"/>
<circle cx="473.00" cy="472.00" r="4.3" fill="#0a26f5" stroke="#fff" stroke-width="0.5"/>
<circle cx="497.50" cy="508.30" r="4.3" fill="#e5232b" stroke="#fff" stroke-width="0.5"/>
<circle cx="505.80" cy="510.00" r="4.3" fill="#e5232b" stroke="#fff" stroke-width="0.5"/>
<circle cx="510.00" cy="512.50" r="4.3" fill="#e5232b" stroke="#fff" stroke-width="0.5"/>
<circle cx="498.30" cy="516.30" r="4.3" fill="#e5232b" stroke="#fff" stroke-width="0.5"/>
<circle cx="509.70" cy="520.00" r="4.3" fill="#e5232b" stroke="#fff" stroke-width="0.5"/>
<circle cx="502.20" cy="528.80" r="4.3" fill="#e5232b" stroke="#fff" stroke-width="0.5"/>
<rect x="405.80" y="535.00" width="115.70" height="25.40" fill="#fff" stroke="#000" stroke-width="1.6"/>
<line x1="405.80" y1="547.20" x2="521.50" y2="547.20" stroke="#000" stroke-width="1.6"/>
<line x1="435.90" y1="535.00" x2="435.90" y2="547.20" stroke="#000" stroke-width="1.6"/>
<line x1="463.10" y1="535.00" x2="463.10" y2="547.20" stroke="#000" stroke-width="1.6"/>
<line x1="491.40" y1="535.00" x2="491.40" y2="547.20" stroke="#000" stroke-width="1.6"/>
<line x1="435.90" y1="547.20" x2="435.90" y2="560.40" stroke="#000" stroke-width="1.6"/>
<text x="403.20" y="543.80" font-size="8.3" text-anchor="end" fill="#1e1e1e">Antibody</text>
<text x="403.20" y="557.70" font-size="8.3" text-anchor="end" fill="#1e1e1e">H1573</text>
<line x1="416.50" y1="541.10" x2="425.10" y2="541.10" stroke="#222" stroke-width="1.5"/>
<line x1="445.20" y1="541.10" x2="453.80" y2="541.10" stroke="#222" stroke-width="1.5"/>
<text x="477.20" y="543.80" font-size="8.3" text-anchor="middle" fill="#1e1e1e">IgG</text>
<text x="506.40" y="543.80" font-size="8.3" text-anchor="middle" fill="#1e1e1e">GDF15</text>
<line x1="416.50" y1="553.80" x2="425.10" y2="553.80" stroke="#222" stroke-width="1.5"/>
<line x1="474.10" y1="553.80" x2="483.10" y2="553.80" stroke="#222" stroke-width="1.6"/>
<line x1="478.60" y1="549.30" x2="478.60" y2="558.30" stroke="#222" stroke-width="1.6"/>
<circle cx="414.40" cy="534.60" r="4.2" fill="#111" stroke="#fff" stroke-width="0.5"/>
<circle cx="427.20" cy="534.60" r="4.2" fill="#111" stroke="#fff" stroke-width="0.5"/>
<circle cx="417.00" cy="534.60" r="4.2" fill="#111" stroke="#fff" stroke-width="0.5"/>
<circle cx="424.60" cy="534.60" r="4.2" fill="#111" stroke="#fff" stroke-width="0.5"/>
<circle cx="419.60" cy="534.60" r="4.2" fill="#111" stroke="#fff" stroke-width="0.5"/>
<circle cx="422.10" cy="534.60" r="4.2" fill="#111" stroke="#fff" stroke-width="0.5"/>
<text x="528.60" y="396.40" font-size="14.5" text-anchor="start" font-weight="bold" fill="#111">L</text>
<line x1="568.80" y1="397.10" x2="568.80" y2="513.10" stroke="#000" stroke-width="1.7"/>
<line x1="565.60" y1="513.10" x2="572.00" y2="513.10" stroke="#000" stroke-width="1.7"/>
<line x1="568.80" y1="523.30" x2="568.80" y2="535.20" stroke="#000" stroke-width="1.7"/>
<line x1="565.60" y1="523.30" x2="572.00" y2="523.30" stroke="#000" stroke-width="1.7"/>
<line x1="567.95" y1="404.70" x2="572.30" y2="404.70" stroke="#000" stroke-width="1.7"/>
<text x="565.40" y="407.90" font-size="8.4" text-anchor="end" fill="#1e1e1e">1.2</text>
<line x1="567.95" y1="444.20" x2="572.30" y2="444.20" stroke="#000" stroke-width="1.7"/>
<text x="565.40" y="447.40" font-size="8.4" text-anchor="end" fill="#1e1e1e">1.0</text>
<line x1="567.95" y1="483.70" x2="572.30" y2="483.70" stroke="#000" stroke-width="1.7"/>
<text x="565.40" y="486.90" font-size="8.4" text-anchor="end" fill="#1e1e1e">0.8</text>
<text x="565.40" y="535.80" font-size="8.4" text-anchor="end" fill="#1e1e1e">0</text>
<text x="549.00" y="471.00" font-size="8.4" text-anchor="middle" fill="#1e1e1e" transform="rotate(-90 549.00 471.00)">Relative Tumor-free Body Weight</text>
<line x1="583.00" y1="400.40" x2="664.70" y2="400.40" stroke="#3a3a3a" stroke-width="1.6"/>
<text x="623.85" y="397.90" font-size="7.0" text-anchor="middle" fill="#1e1e1e">n.s.</text>
<line x1="610.40" y1="410.20" x2="664.70" y2="410.20" stroke="#3a3a3a" stroke-width="1.6"/>
<text x="637.55" y="407.70" font-size="7.0" text-anchor="middle" fill="#1e1e1e">&lt;0.0001</text>
<line x1="638.90" y1="420.50" x2="664.70" y2="420.50" stroke="#3a3a3a" stroke-width="1.6"/>
<text x="651.80" y="418.70" font-size="7.0" text-anchor="middle" fill="#1e1e1e">&lt;0.0001</text>
<rect x="577.10" y="433.40" width="16.20" height="78.90" fill="#a6a7aa" stroke="#000" stroke-width="1.6"/>
<rect x="577.10" y="524.10" width="16.20" height="13.90" fill="#a6a7aa" stroke="#000" stroke-width="1.6"/>
<line x1="585.20" y1="535.20" x2="585.20" y2="531.40" stroke="#000" stroke-width="1.4"/>
<rect x="604.20" y="480.10" width="16.30" height="32.20" fill="#a6a7aa" stroke="#000" stroke-width="1.6"/>
<rect x="604.20" y="524.10" width="16.30" height="13.90" fill="#a6a7aa" stroke="#000" stroke-width="1.6"/>
<line x1="612.35" y1="535.20" x2="612.35" y2="531.40" stroke="#000" stroke-width="1.4"/>
<rect x="632.20" y="477.40" width="16.30" height="34.90" fill="#a6a7aa" stroke="#000" stroke-width="1.6"/>
<rect x="632.20" y="524.10" width="16.30" height="13.90" fill="#a6a7aa" stroke="#000" stroke-width="1.6"/>
<line x1="640.35" y1="535.20" x2="640.35" y2="531.40" stroke="#000" stroke-width="1.4"/>
<rect x="658.80" y="439.60" width="16.30" height="72.70" fill="#a6a7aa" stroke="#000" stroke-width="1.6"/>
<rect x="658.80" y="524.10" width="16.30" height="13.90" fill="#a6a7aa" stroke="#000" stroke-width="1.6"/>
<line x1="666.95" y1="535.20" x2="666.95" y2="531.40" stroke="#000" stroke-width="1.4"/>
<line x1="585.20" y1="428.60" x2="585.20" y2="436.00" stroke="#111" stroke-width="1.2"/>
<line x1="580.80" y1="428.60" x2="589.60" y2="428.60" stroke="#111" stroke-width="1.2"/>
<line x1="580.80" y1="436.00" x2="589.60" y2="436.00" stroke="#111" stroke-width="1.2"/>
<line x1="612.30" y1="473.00" x2="612.30" y2="485.00" stroke="#111" stroke-width="1.2"/>
<line x1="607.90" y1="473.00" x2="616.70" y2="473.00" stroke="#111" stroke-width="1.2"/>
<line x1="607.90" y1="485.00" x2="616.70" y2="485.00" stroke="#111" stroke-width="1.2"/>
<line x1="640.30" y1="468.40" x2="640.30" y2="478.00" stroke="#111" stroke-width="1.2"/>
<line x1="635.90" y1="468.40" x2="644.70" y2="468.40" stroke="#111" stroke-width="1.2"/>
<line x1="635.90" y1="478.00" x2="644.70" y2="478.00" stroke="#111" stroke-width="1.2"/>
<line x1="667.00" y1="436.60" x2="667.00" y2="440.50" stroke="#111" stroke-width="1.2"/>
<line x1="662.60" y1="436.60" x2="671.40" y2="436.60" stroke="#111" stroke-width="1.2"/>
<line x1="662.60" y1="440.50" x2="671.40" y2="440.50" stroke="#111" stroke-width="1.2"/>
<circle cx="584.60" cy="418.80" r="4.2" fill="#111" stroke="#fff" stroke-width="0.5"/>
<circle cx="592.40" cy="426.60" r="4.2" fill="#111" stroke="#fff" stroke-width="0.5"/>
<circle cx="577.60" cy="431.90" r="4.2" fill="#111" stroke="#fff" stroke-width="0.5"/>
<circle cx="592.40" cy="432.60" r="4.2" fill="#111" stroke="#fff" stroke-width="0.5"/>
<circle cx="577.60" cy="436.50" r="4.2" fill="#111" stroke="#fff" stroke-width="0.5"/>
<circle cx="584.60" cy="444.60" r="4.2" fill="#111" stroke="#fff" stroke-width="0.5"/>
<circle cx="612.00" cy="465.40" r="3.9" fill="#fff" stroke="#222" stroke-width="1"/>
<circle cx="605.30" cy="471.30" r="3.9" fill="#fff" stroke="#222" stroke-width="1"/>
<circle cx="618.60" cy="470.00" r="3.9" fill="#fff" stroke="#222" stroke-width="1"/>
<circle cx="605.30" cy="483.30" r="3.9" fill="#fff" stroke="#222" stroke-width="1"/>
<circle cx="618.60" cy="481.40" r="3.9" fill="#fff" stroke="#222" stroke-width="1"/>
<circle cx="612.00" cy="502.70" r="3.9" fill="#fff" stroke="#222" stroke-width="1"/>
<circle cx="639.40" cy="458.10" r="4.2" fill="#0a26f5" stroke="#fff" stroke-width="0.5"/>
<circle cx="641.20" cy="462.40" r="4.2" fill="#0a26f5" stroke="#fff" stroke-width="0.5"/>
<circle cx="635.00" cy="473.00" r="4.2" fill="#0a26f5" stroke="#fff" stroke-width="0.5"/>
<circle cx="633.50" cy="477.50" r="4.2" fill="#0a26f5" stroke="#fff" stroke-width="0.5"/>
<circle cx="645.90" cy="475.80" r="4.2" fill="#0a26f5" stroke="#fff" stroke-width="0.5"/>
<circle cx="640.30" cy="491.60" r="4.2" fill="#0a26f5" stroke="#fff" stroke-width="0.5"/>
<circle cx="661.00" cy="431.90" r="4.5" fill="#e5232b" stroke="#fff" stroke-width="0.5"/>
<circle cx="672.40" cy="431.90" r="4.5" fill="#e5232b" stroke="#fff" stroke-width="0.5"/>
<circle cx="657.00" cy="441.10" r="4.5" fill="#e5232b" stroke="#fff" stroke-width="0.5"/>
<circle cx="673.30" cy="437.80" r="4.5" fill="#e5232b" stroke="#fff" stroke-width="0.5"/>
<circle cx="662.70" cy="444.00" r="4.5" fill="#e5232b" stroke="#fff" stroke-width="0.5"/>
<circle cx="674.10" cy="444.00" r="4.5" fill="#e5232b" stroke="#fff" stroke-width="0.5"/>
<rect x="568.80" y="535.20" width="114.40" height="24.60" fill="#fff" stroke="#000" stroke-width="1.6"/>
<line x1="568.80" y1="547.20" x2="683.20" y2="547.20" stroke="#000" stroke-width="1.6"/>
<line x1="598.60" y1="535.20" x2="598.60" y2="547.20" stroke="#000" stroke-width="1.6"/>
<line x1="626.10" y1="535.20" x2="626.10" y2="547.20" stroke="#000" stroke-width="1.6"/>
<line x1="653.30" y1="535.20" x2="653.30" y2="547.20" stroke="#000" stroke-width="1.6"/>
<line x1="598.60" y1="547.20" x2="598.60" y2="559.80" stroke="#000" stroke-width="1.6"/>
<text x="566.20" y="543.80" font-size="8.3" text-anchor="end" fill="#1e1e1e">Antibody</text>
<text x="566.20" y="557.10" font-size="8.3" text-anchor="end" fill="#1e1e1e">H1573</text>
<line x1="579.40" y1="541.20" x2="588.00" y2="541.20" stroke="#222" stroke-width="1.5"/>
<line x1="608.10" y1="541.20" x2="616.70" y2="541.20" stroke="#222" stroke-width="1.5"/>
<text x="639.70" y="543.80" font-size="8.3" text-anchor="middle" fill="#1e1e1e">IgG</text>
<text x="668.30" y="543.80" font-size="8.3" text-anchor="middle" fill="#1e1e1e">GDF15</text>
<line x1="579.40" y1="553.50" x2="588.00" y2="553.50" stroke="#222" stroke-width="1.5"/>
<line x1="636.50" y1="553.50" x2="645.50" y2="553.50" stroke="#222" stroke-width="1.6"/>
<line x1="641.00" y1="549.00" x2="641.00" y2="558.00" stroke="#222" stroke-width="1.6"/>
<text x="2.00" y="586.00" font-size="14.5" text-anchor="start" font-weight="bold" fill="#111">M</text>
<line x1="31.00" y1="581.30" x2="31.00" y2="701.30" stroke="#000" stroke-width="1.7"/>
<line x1="27.80" y1="701.30" x2="34.20" y2="701.30" stroke="#000" stroke-width="1.7"/>
<line x1="31.00" y1="709.70" x2="31.00" y2="720.20" stroke="#000" stroke-width="1.7"/>
<line x1="27.80" y1="709.70" x2="34.20" y2="709.70" stroke="#000" stroke-width="1.7"/>
<line x1="30.15" y1="596.00" x2="34.50" y2="596.00" stroke="#000" stroke-width="1.7"/>
<text x="27.80" y="599.20" font-size="8.4" text-anchor="end" fill="#1e1e1e">1.0</text>
<line x1="30.15" y1="630.80" x2="34.50" y2="630.80" stroke="#000" stroke-width="1.7"/>
<text x="27.80" y="634.00" font-size="8.4" text-anchor="end" fill="#1e1e1e">0.8</text>
<line x1="30.15" y1="665.60" x2="34.50" y2="665.60" stroke="#000" stroke-width="1.7"/>
<text x="27.80" y="668.80" font-size="8.4" text-anchor="end" fill="#1e1e1e">0.6</text>
<text x="27.80" y="720.80" font-size="8.4" text-anchor="end" fill="#1e1e1e">0</text>
<line x1="31.00" y1="720.20" x2="200.00" y2="720.20" stroke="#000" stroke-width="1.7"/>
<line x1="54.60" y1="720.20" x2="54.60" y2="716.40" stroke="#000" stroke-width="1.6"/>
<line x1="78.20" y1="720.20" x2="78.20" y2="716.40" stroke="#000" stroke-width="1.6"/>
<line x1="101.80" y1="720.20" x2="101.80" y2="716.40" stroke="#000" stroke-width="1.6"/>
<line x1="125.40" y1="720.20" x2="125.40" y2="716.40" stroke="#000" stroke-width="1.6"/>
<line x1="149.00" y1="720.20" x2="149.00" y2="716.40" stroke="#000" stroke-width="1.6"/>
<line x1="172.60" y1="720.20" x2="172.60" y2="716.40" stroke="#000" stroke-width="1.6"/>
<line x1="196.20" y1="720.20" x2="196.20" y2="716.40" stroke="#000" stroke-width="1.6"/>
<text x="31.00" y="730.20" font-size="8.2" text-anchor="middle" fill="#1e1e1e">0</text>
<text x="54.60" y="730.20" font-size="8.2" text-anchor="middle" fill="#1e1e1e">5</text>
<text x="78.20" y="730.20" font-size="8.2" text-anchor="middle" fill="#1e1e1e">10</text>
<text x="101.80" y="730.20" font-size="8.2" text-anchor="middle" fill="#1e1e1e">15</text>
<text x="125.40" y="730.20" font-size="8.2" text-anchor="middle" fill="#1e1e1e">20</text>
<text x="149.00" y="730.20" font-size="8.2" text-anchor="middle" fill="#1e1e1e">25</text>
<text x="172.60" y="730.20" font-size="8.2" text-anchor="middle" fill="#1e1e1e">30</text>
<text x="196.20" y="730.20" font-size="8.2" text-anchor="middle" fill="#1e1e1e">35</text>
<text x="108.80" y="739.00" font-size="8.5" text-anchor="middle" fill="#1e1e1e">Days After Tumor Implantation</text>
<text x="10.50" y="657.80" font-size="8.45" text-anchor="middle" fill="#1e1e1e" transform="rotate(-90 10.50 657.80)">Relative Fat Mass</text>
<text x="136.60" y="577.30" font-size="8.5" text-anchor="middle" fill="#1e1e1e">Antibody Treatment</text>
<line x1="102.50" y1="579.50" x2="102.50" y2="590.00" stroke="#17a253" stroke-width="2.0"/>
<path d="M98.50,587.50 L102.50,594.30 L106.50,587.50 L103.50,589.70 L101.50,589.70 Z" fill="#17a253"/>
<line x1="135.40" y1="579.50" x2="135.40" y2="590.00" stroke="#17a253" stroke-width="2.0"/>
<path d="M131.40,587.50 L135.40,594.30 L139.40,587.50 L136.40,589.70 L134.40,589.70 Z" fill="#17a253"/>
<line x1="169.70" y1="579.50" x2="169.70" y2="590.00" stroke="#17a253" stroke-width="2.0"/>
<path d="M165.70,587.50 L169.70,594.30 L173.70,587.50 L170.70,589.70 L168.70,589.70 Z" fill="#17a253"/>
<line x1="55.00" y1="612.00" x2="55.00" y2="621.00" stroke="#444" stroke-width="1.0"/>
<line x1="50.60" y1="612.00" x2="59.40" y2="612.00" stroke="#444" stroke-width="1.0"/>
<line x1="50.60" y1="621.00" x2="59.40" y2="621.00" stroke="#444" stroke-width="1.0"/>
<line x1="78.90" y1="603.20" x2="78.90" y2="621.00" stroke="#444" stroke-width="1.0"/>
<line x1="74.50" y1="603.20" x2="83.30" y2="603.20" stroke="#444" stroke-width="1.0"/>
<line x1="74.50" y1="621.00" x2="83.30" y2="621.00" stroke="#444" stroke-width="1.0"/>
<line x1="78.90" y1="622.00" x2="78.90" y2="637.40" stroke="#444" stroke-width="1.0"/>
<line x1="74.50" y1="622.00" x2="83.30" y2="622.00" stroke="#444" stroke-width="1.0"/>
<line x1="74.50" y1="637.40" x2="83.30" y2="637.40" stroke="#444" stroke-width="1.0"/>
<line x1="102.50" y1="609.40" x2="102.50" y2="629.10" stroke="#444" stroke-width="1.0"/>
<line x1="98.10" y1="609.40" x2="106.90" y2="609.40" stroke="#444" stroke-width="1.0"/>
<line x1="98.10" y1="629.10" x2="106.90" y2="629.10" stroke="#444" stroke-width="1.0"/>
<line x1="102.50" y1="634.80" x2="102.50" y2="646.00" stroke="#444" stroke-width="1.0"/>
<line x1="98.10" y1="634.80" x2="106.90" y2="634.80" stroke="#444" stroke-width="1.0"/>
<line x1="98.10" y1="646.00" x2="106.90" y2="646.00" stroke="#444" stroke-width="1.0"/>
<line x1="102.50" y1="641.00" x2="102.50" y2="660.40" stroke="#444" stroke-width="1.0"/>
<line x1="98.10" y1="641.00" x2="106.90" y2="641.00" stroke="#444" stroke-width="1.0"/>
<line x1="98.10" y1="660.40" x2="106.90" y2="660.40" stroke="#444" stroke-width="1.0"/>
<line x1="126.40" y1="601.50" x2="126.40" y2="620.00" stroke="#444" stroke-width="1.0"/>
<line x1="122.00" y1="601.50" x2="130.80" y2="601.50" stroke="#444" stroke-width="1.0"/>
<line x1="122.00" y1="620.00" x2="130.80" y2="620.00" stroke="#444" stroke-width="1.0"/>
<line x1="126.40" y1="611.00" x2="126.40" y2="635.50" stroke="#444" stroke-width="1.0"/>
<line x1="122.00" y1="611.00" x2="130.80" y2="611.00" stroke="#444" stroke-width="1.0"/>
<line x1="122.00" y1="635.50" x2="130.80" y2="635.50" stroke="#444" stroke-width="1.0"/>
<line x1="126.40" y1="645.90" x2="126.40" y2="663.50" stroke="#444" stroke-width="1.0"/>
<line x1="122.00" y1="645.90" x2="130.80" y2="645.90" stroke="#444" stroke-width="1.0"/>
<line x1="122.00" y1="663.50" x2="130.80" y2="663.50" stroke="#444" stroke-width="1.0"/>
<line x1="145.80" y1="606.70" x2="145.80" y2="633.00" stroke="#444" stroke-width="1.0"/>
<line x1="141.40" y1="606.70" x2="150.20" y2="606.70" stroke="#444" stroke-width="1.0"/>
<line x1="141.40" y1="633.00" x2="150.20" y2="633.00" stroke="#444" stroke-width="1.0"/>
<line x1="145.80" y1="618.00" x2="145.80" y2="643.60" stroke="#444" stroke-width="1.0"/>
<line x1="141.40" y1="618.00" x2="150.20" y2="618.00" stroke="#444" stroke-width="1.0"/>
<line x1="141.40" y1="643.60" x2="150.20" y2="643.60" stroke="#444" stroke-width="1.0"/>
<line x1="145.80" y1="662.70" x2="145.80" y2="681.70" stroke="#444" stroke-width="1.0"/>
<line x1="141.40" y1="662.70" x2="150.20" y2="662.70" stroke="#444" stroke-width="1.0"/>
<line x1="141.40" y1="681.70" x2="150.20" y2="681.70" stroke="#444" stroke-width="1.0"/>
<line x1="164.50" y1="601.50" x2="164.50" y2="627.00" stroke="#444" stroke-width="1.0"/>
<line x1="160.10" y1="601.50" x2="168.90" y2="601.50" stroke="#444" stroke-width="1.0"/>
<line x1="160.10" y1="627.00" x2="168.90" y2="627.00" stroke="#444" stroke-width="1.0"/>
<line x1="164.50" y1="620.00" x2="164.50" y2="637.20" stroke="#444" stroke-width="1.0"/>
<line x1="160.10" y1="620.00" x2="168.90" y2="620.00" stroke="#444" stroke-width="1.0"/>
<line x1="160.10" y1="637.20" x2="168.90" y2="637.20" stroke="#444" stroke-width="1.0"/>
<line x1="164.50" y1="665.60" x2="164.50" y2="684.30" stroke="#444" stroke-width="1.0"/>
<line x1="160.10" y1="665.60" x2="168.90" y2="665.60" stroke="#444" stroke-width="1.0"/>
<line x1="160.10" y1="684.30" x2="168.90" y2="684.30" stroke="#444" stroke-width="1.0"/>
<line x1="164.50" y1="668.00" x2="164.50" y2="682.00" stroke="#444" stroke-width="1.0"/>
<line x1="160.10" y1="668.00" x2="168.90" y2="668.00" stroke="#444" stroke-width="1.0"/>
<line x1="160.10" y1="682.00" x2="168.90" y2="682.00" stroke="#444" stroke-width="1.0"/>
<line x1="183.50" y1="598.10" x2="183.50" y2="621.60" stroke="#444" stroke-width="1.0"/>
<line x1="179.10" y1="598.10" x2="187.90" y2="598.10" stroke="#444" stroke-width="1.0"/>
<line x1="179.10" y1="621.60" x2="187.90" y2="621.60" stroke="#444" stroke-width="1.0"/>
<line x1="183.50" y1="621.60" x2="183.50" y2="638.40" stroke="#444" stroke-width="1.0"/>
<line x1="179.10" y1="621.60" x2="187.90" y2="621.60" stroke="#444" stroke-width="1.0"/>
<line x1="179.10" y1="638.40" x2="187.90" y2="638.40" stroke="#444" stroke-width="1.0"/>
<line x1="183.50" y1="661.50" x2="183.50" y2="679.50" stroke="#444" stroke-width="1.0"/>
<line x1="179.10" y1="661.50" x2="187.90" y2="661.50" stroke="#444" stroke-width="1.0"/>
<line x1="179.10" y1="679.50" x2="187.90" y2="679.50" stroke="#444" stroke-width="1.0"/>
<line x1="183.50" y1="680.00" x2="183.50" y2="699.00" stroke="#444" stroke-width="1.0"/>
<line x1="179.10" y1="680.00" x2="187.90" y2="680.00" stroke="#444" stroke-width="1.0"/>
<line x1="179.10" y1="699.00" x2="187.90" y2="699.00" stroke="#444" stroke-width="1.0"/>
<path d="M31.0,596.0 55.0,604.5 78.9,626.9 102.5,637.0 126.4,652.0 145.8,670.5 164.5,675.7 183.5,689.2" stroke="#111" stroke-width="2.2" fill="none" stroke-dasharray="4.5,3"/>
<path d="M31.0,596.0 55.0,616.8 78.9,628.2 102.5,651.0 126.4,654.9 145.8,675.7 164.5,675.7 183.5,674.3" stroke="#0a26f5" stroke-width="2.2" fill="none"/>
<path d="M31.0,596.0 55.0,602.6 78.9,612.2 102.5,619.4 126.4,623.4 145.8,620.2 164.5,614.7 183.5,614.7" stroke="#111" stroke-width="2.2" fill="none"/>
<path d="M31.0,596.0 55.0,608.5 78.9,631.2 102.5,640.4 126.4,611.1 145.8,631.0 164.5,629.2 183.5,629.8" stroke="#e5232b" stroke-width="2.2" fill="none"/>
<circle cx="31.00" cy="596.00" r="4.0" fill="#fff" stroke="#222" stroke-width="1"/>
<circle cx="55.00" cy="604.50" r="4.0" fill="#fff" stroke="#222" stroke-width="1"/>
<circle cx="78.90" cy="626.90" r="4.0" fill="#fff" stroke="#222" stroke-width="1"/>
<circle cx="102.50" cy="637.00" r="4.0" fill="#fff" stroke="#222" stroke-width="1"/>
<circle cx="126.40" cy="652.00" r="4.0" fill="#fff" stroke="#222" stroke-width="1"/>
<circle cx="145.80" cy="670.50" r="4.0" fill="#fff" stroke="#222" stroke-width="1"/>
<circle cx="164.50" cy="675.70" r="4.0" fill="#fff" stroke="#222" stroke-width="1"/>
<circle cx="183.50" cy="689.20" r="4.0" fill="#fff" stroke="#222" stroke-width="1"/>
<circle cx="31.00" cy="596.00" r="4.2" fill="#0a26f5" stroke="#fff" stroke-width="0.5"/>
<circle cx="55.00" cy="616.80" r="4.2" fill="#0a26f5" stroke="#fff" stroke-width="0.5"/>
<circle cx="78.90" cy="628.20" r="4.2" fill="#0a26f5" stroke="#fff" stroke-width="0.5"/>
<circle cx="102.50" cy="651.00" r="4.2" fill="#0a26f5" stroke="#fff" stroke-width="0.5"/>
<circle cx="126.40" cy="654.90" r="4.2" fill="#0a26f5" stroke="#fff" stroke-width="0.5"/>
<circle cx="145.80" cy="675.70" r="4.2" fill="#0a26f5" stroke="#fff" stroke-width="0.5"/>
<circle cx="164.50" cy="675.70" r="4.2" fill="#0a26f5" stroke="#fff" stroke-width="0.5"/>
<circle cx="183.50" cy="674.30" r="4.2" fill="#0a26f5" stroke="#fff" stroke-width="0.5"/>
<circle cx="31.00" cy="596.00" r="4.2" fill="#111" stroke="#fff" stroke-width="0.5"/>
<circle cx="55.00" cy="602.60" r="4.2" fill="#111" stroke="#fff" stroke-width="0.5"/>
<circle cx="78.90" cy="612.20" r="4.2" fill="#111" stroke="#fff" stroke-width="0.5"/>
<circle cx="102.50" cy="619.40" r="4.2" fill="#111" stroke="#fff" stroke-width="0.5"/>
<circle cx="126.40" cy="623.40" r="4.2" fill="#111" stroke="#fff" stroke-width="0.5"/>
<circle cx="145.80" cy="620.20" r="4.2" fill="#111" stroke="#fff" stroke-width="0.5"/>
<circle cx="164.50" cy="614.70" r="4.2" fill="#111" stroke="#fff" stroke-width="0.5"/>
<circle cx="183.50" cy="614.70" r="4.2" fill="#111" stroke="#fff" stroke-width="0.5"/>
<circle cx="31.00" cy="596.00" r="4.2" fill="#e5232b" stroke="#fff" stroke-width="0.5"/>
<circle cx="55.00" cy="608.50" r="4.2" fill="#e5232b" stroke="#fff" stroke-width="0.5"/>
<circle cx="78.90" cy="631.20" r="4.2" fill="#e5232b" stroke="#fff" stroke-width="0.5"/>
<circle cx="102.50" cy="640.40" r="4.2" fill="#e5232b" stroke="#fff" stroke-width="0.5"/>
<circle cx="126.40" cy="611.10" r="4.2" fill="#e5232b" stroke="#fff" stroke-width="0.5"/>
<circle cx="145.80" cy="631.00" r="4.2" fill="#e5232b" stroke="#fff" stroke-width="0.5"/>
<circle cx="164.50" cy="629.20" r="4.2" fill="#e5232b" stroke="#fff" stroke-width="0.5"/>
<circle cx="183.50" cy="629.80" r="4.2" fill="#e5232b" stroke="#fff" stroke-width="0.5"/>
<text x="52.90" y="662.60" font-size="8.5" text-anchor="start" fill="#1e1e1e">Antibody</text>
<line x1="52.90" y1="664.20" x2="85.80" y2="664.20" stroke="#555" stroke-width="0.9"/>
<text x="44.00" y="671.10" font-size="7.9" text-anchor="middle" fill="#1e1e1e" transform="rotate(-90 44.00 671.10)">PBS</text>
<path d="M49,666.3 L46.4,666.3 L46.4,674.7 L49,674.7" stroke="#000" stroke-width="1.1" fill="none"/>
<text x="44.00" y="696.70" font-size="8.4" text-anchor="middle" fill="#1e1e1e" transform="rotate(-90 44.00 696.70)">H1573</text>
<path d="M49,680.6 L46.4,680.6 L46.4,713.2 L49,713.2" stroke="#000" stroke-width="1.1" fill="none"/>
<circle cx="55.20" cy="670.10" r="4.2" fill="#111" stroke="#fff" stroke-width="0.5"/>
<circle cx="55.20" cy="685.20" r="3.9" fill="#fff" stroke="#222" stroke-width="1"/>
<circle cx="55.20" cy="696.40" r="4.2" fill="#0a26f5" stroke="#fff" stroke-width="0.5"/>
<circle cx="55.20" cy="709.20" r="4.2" fill="#e5232b" stroke="#fff" stroke-width="0.5"/>
<text x="61.70" y="672.40" font-size="8.5" text-anchor="start" fill="#1e1e1e">None</text>
<text x="61.70" y="688.20" font-size="8.5" text-anchor="start" fill="#1e1e1e">None</text>
<text x="61.70" y="699.20" font-size="8.5" text-anchor="start" fill="#1e1e1e">IgG</text>
<text x="61.70" y="711.50" font-size="8.5" text-anchor="start" fill="#1e1e1e">GDF15</text>
<text x="92.30" y="673.20" font-size="8.3" text-anchor="start" font-style="italic" fill="#1e1e1e">(p=n.s.)</text>
<text x="92.30" y="686.30" font-size="8.3" text-anchor="start" font-style="italic" fill="#1e1e1e">(p=0.003)</text>
<text x="92.30" y="698.80" font-size="8.3" text-anchor="start" font-style="italic" fill="#1e1e1e">(p=0.049)</text>
<text x="214.30" y="585.60" font-size="14.5" text-anchor="start" font-weight="bold" fill="#111">N</text>
<line x1="249.40" y1="584.90" x2="249.40" y2="721.90" stroke="#000" stroke-width="1.7"/>
<line x1="248.55" y1="585.14" x2="252.90" y2="585.14" stroke="#000" stroke-width="1.7"/>
<text x="245.50" y="588.94" font-size="8.4" text-anchor="end" fill="#1e1e1e">200</text>
<line x1="248.55" y1="619.33" x2="252.90" y2="619.33" stroke="#000" stroke-width="1.7"/>
<text x="245.50" y="623.13" font-size="8.4" text-anchor="end" fill="#1e1e1e">150</text>
<line x1="248.55" y1="653.52" x2="252.90" y2="653.52" stroke="#000" stroke-width="1.7"/>
<text x="245.50" y="657.32" font-size="8.4" text-anchor="end" fill="#1e1e1e">100</text>
<line x1="248.55" y1="687.71" x2="252.90" y2="687.71" stroke="#000" stroke-width="1.7"/>
<text x="245.50" y="691.51" font-size="8.4" text-anchor="end" fill="#1e1e1e">50</text>
<line x1="248.55" y1="719.50" x2="252.90" y2="719.50" stroke="#000" stroke-width="1.7"/>
<text x="245.50" y="723.30" font-size="8.4" text-anchor="end" fill="#1e1e1e">0</text>
<text x="228.50" y="657.80" font-size="8.45" text-anchor="middle" fill="#1e1e1e" transform="rotate(-90 228.50 657.80)">eWAT Weight (mg)</text>
<line x1="261.50" y1="574.20" x2="342.50" y2="574.20" stroke="#3a3a3a" stroke-width="1.6"/>
<text x="302.00" y="571.70" font-size="7.0" text-anchor="middle" fill="#1e1e1e">n.s.</text>
<line x1="288.40" y1="583.60" x2="342.50" y2="583.60" stroke="#3a3a3a" stroke-width="1.6"/>
<text x="315.45" y="581.10" font-size="7.0" text-anchor="middle" fill="#1e1e1e">0.0005</text>
<line x1="316.90" y1="593.60" x2="342.50" y2="593.60" stroke="#3a3a3a" stroke-width="1.6"/>
<text x="329.70" y="591.80" font-size="7.0" text-anchor="middle" fill="#1e1e1e">0.0003</text>
<rect x="255.80" y="660.70" width="17.00" height="62.00" fill="#a6a7aa" stroke="#000" stroke-width="1.6"/>
<line x1="264.30" y1="721.90" x2="264.30" y2="718.10" stroke="#000" stroke-width="1.4"/>
<rect x="283.70" y="698.90" width="16.40" height="23.80" fill="#a6a7aa" stroke="#000" stroke-width="1.6"/>
<line x1="291.90" y1="721.90" x2="291.90" y2="718.10" stroke="#000" stroke-width="1.4"/>
<rect x="311.30" y="701.00" width="16.70" height="21.70" fill="#a6a7aa" stroke="#000" stroke-width="1.6"/>
<line x1="319.65" y1="721.90" x2="319.65" y2="718.10" stroke="#000" stroke-width="1.4"/>
<rect x="338.10" y="642.00" width="16.60" height="80.70" fill="#a6a7aa" stroke="#000" stroke-width="1.6"/>
<line x1="346.40" y1="721.90" x2="346.40" y2="718.10" stroke="#000" stroke-width="1.4"/>
<line x1="263.90" y1="655.90" x2="263.90" y2="661.70" stroke="#111" stroke-width="1.1"/>
<line x1="259.50" y1="655.90" x2="268.30" y2="655.90" stroke="#111" stroke-width="1.1"/>
<line x1="259.50" y1="661.70" x2="268.30" y2="661.70" stroke="#111" stroke-width="1.1"/>
<line x1="292.20" y1="692.40" x2="292.20" y2="704.50" stroke="#111" stroke-width="1.1"/>
<line x1="287.80" y1="692.40" x2="296.60" y2="692.40" stroke="#111" stroke-width="1.1"/>
<line x1="287.80" y1="704.50" x2="296.60" y2="704.50" stroke="#111" stroke-width="1.1"/>
<line x1="320.10" y1="695.20" x2="320.10" y2="706.40" stroke="#111" stroke-width="1.1"/>
<line x1="315.70" y1="695.20" x2="324.50" y2="695.20" stroke="#111" stroke-width="1.1"/>
<line x1="315.70" y1="706.40" x2="324.50" y2="706.40" stroke="#111" stroke-width="1.1"/>
<line x1="346.80" y1="626.50" x2="346.80" y2="656.20" stroke="#111" stroke-width="1.1"/>
<line x1="342.00" y1="626.50" x2="351.60" y2="626.50" stroke="#111" stroke-width="1.1"/>
<line x1="342.00" y1="656.20" x2="351.60" y2="656.20" stroke="#111" stroke-width="1.1"/>
<circle cx="263.90" cy="651.20" r="4.2" fill="#111" stroke="#fff" stroke-width="0.5"/>
<circle cx="258.40" cy="656.70" r="4.2" fill="#111" stroke="#fff" stroke-width="0.5"/>
<circle cx="270.10" cy="657.10" r="4.2" fill="#111" stroke="#fff" stroke-width="0.5"/>
<circle cx="269.90" cy="663.60" r="4.2" fill="#111" stroke="#fff" stroke-width="0.5"/>
<circle cx="258.40" cy="667.50" r="4.2" fill="#111" stroke="#fff" stroke-width="0.5"/>
<circle cx="290.30" cy="672.00" r="3.9" fill="#fff" stroke="#222" stroke-width="1"/>
<circle cx="285.40" cy="690.90" r="3.9" fill="#fff" stroke="#222" stroke-width="1"/>
<circle cx="297.80" cy="700.50" r="3.9" fill="#fff" stroke="#222" stroke-width="1"/>
<circle cx="284.70" cy="704.80" r="3.9" fill="#fff" stroke="#222" stroke-width="1"/>
<circle cx="284.70" cy="711.70" r="3.9" fill="#fff" stroke="#222" stroke-width="1"/>
<circle cx="296.20" cy="709.70" r="3.9" fill="#fff" stroke="#222" stroke-width="1"/>
<circle cx="319.70" cy="677.50" r="4.2" fill="#0a26f5" stroke="#fff" stroke-width="0.5"/>
<circle cx="313.90" cy="694.00" r="4.2" fill="#0a26f5" stroke="#fff" stroke-width="0.5"/>
<circle cx="325.40" cy="700.20" r="4.2" fill="#0a26f5" stroke="#fff" stroke-width="0.5"/>
<circle cx="313.90" cy="706.40" r="4.2" fill="#0a26f5" stroke="#fff" stroke-width="0.5"/>
<circle cx="325.40" cy="710.50" r="4.2" fill="#0a26f5" stroke="#fff" stroke-width="0.5"/>
<circle cx="313.90" cy="715.70" r="4.2" fill="#0a26f5" stroke="#fff" stroke-width="0.5"/>
<circle cx="346.30" cy="596.60" r="4.2" fill="#e5232b" stroke="#fff" stroke-width="0.5"/>
<circle cx="346.30" cy="610.90" r="4.2" fill="#e5232b" stroke="#fff" stroke-width="0.5"/>
<circle cx="339.90" cy="628.60" r="4.2" fill="#e5232b" stroke="#fff" stroke-width="0.5"/>
<circle cx="351.60" cy="652.10" r="4.2" fill="#e5232b" stroke="#fff" stroke-width="0.5"/>
<circle cx="346.30" cy="663.70" r="4.2" fill="#e5232b" stroke="#fff" stroke-width="0.5"/>
<circle cx="346.30" cy="694.80" r="4.2" fill="#e5232b" stroke="#fff" stroke-width="0.5"/>
<rect x="249.40" y="721.90" width="115.10" height="25.80" fill="#fff" stroke="#000" stroke-width="1.6"/>
<line x1="249.40" y1="734.60" x2="364.50" y2="734.60" stroke="#000" stroke-width="1.6"/>
<line x1="279.90" y1="721.90" x2="279.90" y2="734.60" stroke="#000" stroke-width="1.6"/>
<line x1="306.10" y1="721.90" x2="306.10" y2="734.60" stroke="#000" stroke-width="1.6"/>
<line x1="333.90" y1="721.90" x2="333.90" y2="734.60" stroke="#000" stroke-width="1.6"/>
<line x1="279.90" y1="734.60" x2="279.90" y2="747.70" stroke="#000" stroke-width="1.6"/>
<text x="246.80" y="731.20" font-size="8.3" text-anchor="end" fill="#1e1e1e">Antibody</text>
<text x="246.80" y="745.00" font-size="8.3" text-anchor="end" fill="#1e1e1e">H1573</text>
<line x1="260.30" y1="728.25" x2="268.90" y2="728.25" stroke="#222" stroke-width="1.5"/>
<line x1="288.70" y1="728.25" x2="297.30" y2="728.25" stroke="#222" stroke-width="1.5"/>
<text x="320.00" y="731.20" font-size="8.3" text-anchor="middle" fill="#1e1e1e">IgG</text>
<text x="349.20" y="731.20" font-size="8.3" text-anchor="middle" fill="#1e1e1e">GDF15</text>
<line x1="260.30" y1="741.15" x2="268.90" y2="741.15" stroke="#222" stroke-width="1.5"/>
<line x1="317.70" y1="741.15" x2="326.70" y2="741.15" stroke="#222" stroke-width="1.6"/>
<line x1="322.20" y1="736.65" x2="322.20" y2="745.65" stroke="#222" stroke-width="1.6"/>
<text x="372.50" y="585.80" font-size="14.5" text-anchor="start" font-weight="bold" fill="#111">O</text>
<line x1="406.20" y1="585.80" x2="406.20" y2="700.20" stroke="#000" stroke-width="1.7"/>
<line x1="403.00" y1="700.20" x2="409.40" y2="700.20" stroke="#000" stroke-width="1.7"/>
<line x1="406.20" y1="710.30" x2="406.20" y2="721.50" stroke="#000" stroke-width="1.7"/>
<line x1="403.00" y1="710.30" x2="409.40" y2="710.30" stroke="#000" stroke-width="1.7"/>
<line x1="405.35" y1="592.00" x2="409.70" y2="592.00" stroke="#000" stroke-width="1.7"/>
<text x="401.90" y="595.20" font-size="8.4" text-anchor="end" fill="#1e1e1e">1.2</text>
<line x1="405.35" y1="631.80" x2="409.70" y2="631.80" stroke="#000" stroke-width="1.7"/>
<text x="401.90" y="635.00" font-size="8.4" text-anchor="end" fill="#1e1e1e">1.0</text>
<line x1="405.35" y1="671.60" x2="409.70" y2="671.60" stroke="#000" stroke-width="1.7"/>
<text x="401.90" y="674.80" font-size="8.4" text-anchor="end" fill="#1e1e1e">0.8</text>
<text x="401.90" y="722.10" font-size="8.4" text-anchor="end" fill="#1e1e1e">0</text>
<text x="388.50" y="657.80" font-size="8.2" text-anchor="middle" fill="#1e1e1e" transform="rotate(-90 388.50 657.80)">Relative Tumor-free Lean Mass</text>
<line x1="422.40" y1="586.90" x2="503.90" y2="586.90" stroke="#3a3a3a" stroke-width="1.6"/>
<text x="463.15" y="584.40" font-size="7.0" text-anchor="middle" fill="#1e1e1e">n.s.</text>
<line x1="449.40" y1="597.10" x2="503.90" y2="597.10" stroke="#3a3a3a" stroke-width="1.6"/>
<text x="476.65" y="594.60" font-size="7.0" text-anchor="middle" fill="#1e1e1e">&lt;0.0001</text>
<line x1="478.20" y1="607.40" x2="503.90" y2="607.40" stroke="#3a3a3a" stroke-width="1.6"/>
<text x="491.05" y="605.60" font-size="7.0" text-anchor="middle" fill="#1e1e1e">&lt;0.0001</text>
<rect x="413.70" y="617.00" width="17.30" height="82.70" fill="#a6a7aa" stroke="#000" stroke-width="1.6"/>
<rect x="413.70" y="711.10" width="17.30" height="13.20" fill="#a6a7aa" stroke="#000" stroke-width="1.6"/>
<line x1="422.35" y1="721.50" x2="422.35" y2="717.70" stroke="#000" stroke-width="1.4"/>
<rect x="441.70" y="660.20" width="16.60" height="39.50" fill="#a6a7aa" stroke="#000" stroke-width="1.6"/>
<rect x="441.70" y="711.10" width="16.60" height="13.20" fill="#a6a7aa" stroke="#000" stroke-width="1.6"/>
<line x1="450.00" y1="721.50" x2="450.00" y2="717.70" stroke="#000" stroke-width="1.4"/>
<rect x="469.00" y="655.40" width="16.90" height="44.30" fill="#a6a7aa" stroke="#000" stroke-width="1.6"/>
<rect x="469.00" y="711.10" width="16.90" height="13.20" fill="#a6a7aa" stroke="#000" stroke-width="1.6"/>
<line x1="477.45" y1="721.50" x2="477.45" y2="717.70" stroke="#000" stroke-width="1.4"/>
<rect x="496.30" y="628.10" width="16.90" height="71.60" fill="#a6a7aa" stroke="#000" stroke-width="1.6"/>
<rect x="496.30" y="711.10" width="16.90" height="13.20" fill="#a6a7aa" stroke="#000" stroke-width="1.6"/>
<line x1="504.75" y1="721.50" x2="504.75" y2="717.70" stroke="#000" stroke-width="1.4"/>
<line x1="422.40" y1="612.50" x2="422.40" y2="620.00" stroke="#111" stroke-width="1.1"/>
<line x1="418.00" y1="612.50" x2="426.80" y2="612.50" stroke="#111" stroke-width="1.1"/>
<line x1="418.00" y1="620.00" x2="426.80" y2="620.00" stroke="#111" stroke-width="1.1"/>
<line x1="450.00" y1="655.50" x2="450.00" y2="663.00" stroke="#111" stroke-width="1.1"/>
<line x1="445.60" y1="655.50" x2="454.40" y2="655.50" stroke="#111" stroke-width="1.1"/>
<line x1="445.60" y1="663.00" x2="454.40" y2="663.00" stroke="#111" stroke-width="1.1"/>
<line x1="477.50" y1="650.50" x2="477.50" y2="659.00" stroke="#111" stroke-width="1.1"/>
<line x1="473.10" y1="650.50" x2="481.90" y2="650.50" stroke="#111" stroke-width="1.1"/>
<line x1="473.10" y1="659.00" x2="481.90" y2="659.00" stroke="#111" stroke-width="1.1"/>
<line x1="504.70" y1="624.50" x2="504.70" y2="628.00" stroke="#111" stroke-width="1.1"/>
<line x1="500.30" y1="624.50" x2="509.10" y2="624.50" stroke="#111" stroke-width="1.1"/>
<line x1="500.30" y1="628.00" x2="509.10" y2="628.00" stroke="#111" stroke-width="1.1"/>
<circle cx="422.50" cy="602.00" r="4.2" fill="#111" stroke="#fff" stroke-width="0.5"/>
<circle cx="416.80" cy="611.30" r="4.2" fill="#111" stroke="#fff" stroke-width="0.5"/>
<circle cx="429.70" cy="615.80" r="4.2" fill="#111" stroke="#fff" stroke-width="0.5"/>
<circle cx="416.00" cy="619.60" r="4.2" fill="#111" stroke="#fff" stroke-width="0.5"/>
<circle cx="430.20" cy="622.20" r="4.2" fill="#111" stroke="#fff" stroke-width="0.5"/>
<circle cx="421.20" cy="625.70" r="4.2" fill="#111" stroke="#fff" stroke-width="0.5"/>
<circle cx="450.10" cy="646.90" r="3.9" fill="#fff" stroke="#222" stroke-width="1"/>
<circle cx="442.50" cy="651.10" r="3.9" fill="#fff" stroke="#222" stroke-width="1"/>
<circle cx="456.20" cy="655.00" r="3.9" fill="#fff" stroke="#222" stroke-width="1"/>
<circle cx="443.00" cy="657.00" r="3.9" fill="#fff" stroke="#222" stroke-width="1"/>
<circle cx="456.20" cy="662.70" r="3.9" fill="#fff" stroke="#222" stroke-width="1"/>
<circle cx="450.10" cy="676.30" r="3.9" fill="#fff" stroke="#222" stroke-width="1"/>
<circle cx="477.10" cy="639.40" r="4.2" fill="#0a26f5" stroke="#fff" stroke-width="0.5"/>
<circle cx="483.50" cy="645.00" r="4.2" fill="#0a26f5" stroke="#fff" stroke-width="0.5"/>
<circle cx="471.90" cy="649.00" r="4.2" fill="#0a26f5" stroke="#fff" stroke-width="0.5"/>
<circle cx="483.50" cy="651.70" r="4.2" fill="#0a26f5" stroke="#fff" stroke-width="0.5"/>
<circle cx="471.90" cy="655.00" r="4.2" fill="#0a26f5" stroke="#fff" stroke-width="0.5"/>
<circle cx="477.90" cy="674.70" r="4.2" fill="#0a26f5" stroke="#fff" stroke-width="0.5"/>
<circle cx="498.30" cy="615.80" r="4.5" fill="#e5232b" stroke="#fff" stroke-width="0.5"/>
<circle cx="509.50" cy="613.70" r="4.5" fill="#e5232b" stroke="#fff" stroke-width="0.5"/>
<circle cx="504.40" cy="620.90" r="4.5" fill="#e5232b" stroke="#fff" stroke-width="0.5"/>
<circle cx="497.10" cy="624.10" r="4.5" fill="#e5232b" stroke="#fff" stroke-width="0.5"/>
<circle cx="510.80" cy="623.30" r="4.5" fill="#e5232b" stroke="#fff" stroke-width="0.5"/>
<circle cx="498.70" cy="625.70" r="4.5" fill="#e5232b" stroke="#fff" stroke-width="0.5"/>
<rect x="406.70" y="721.50" width="114.90" height="26.30" fill="#fff" stroke="#000" stroke-width="1.6"/>
<line x1="406.70" y1="734.70" x2="521.60" y2="734.70" stroke="#000" stroke-width="1.6"/>
<line x1="436.70" y1="721.50" x2="436.70" y2="734.70" stroke="#000" stroke-width="1.6"/>
<line x1="463.40" y1="721.50" x2="463.40" y2="734.70" stroke="#000" stroke-width="1.6"/>
<line x1="491.20" y1="721.50" x2="491.20" y2="734.70" stroke="#000" stroke-width="1.6"/>
<line x1="436.70" y1="734.70" x2="436.70" y2="747.80" stroke="#000" stroke-width="1.6"/>
<text x="404.10" y="731.30" font-size="8.3" text-anchor="end" fill="#1e1e1e">Antibody</text>
<text x="404.10" y="745.10" font-size="8.3" text-anchor="end" fill="#1e1e1e">H1573</text>
<line x1="417.30" y1="728.10" x2="425.90" y2="728.10" stroke="#222" stroke-width="1.5"/>
<line x1="445.70" y1="728.10" x2="454.30" y2="728.10" stroke="#222" stroke-width="1.5"/>
<text x="477.30" y="731.30" font-size="8.3" text-anchor="middle" fill="#1e1e1e">IgG</text>
<text x="506.40" y="731.30" font-size="8.3" text-anchor="middle" fill="#1e1e1e">GDF15</text>
<line x1="417.30" y1="741.25" x2="425.90" y2="741.25" stroke="#222" stroke-width="1.5"/>
<line x1="474.30" y1="741.25" x2="483.30" y2="741.25" stroke="#222" stroke-width="1.6"/>
<line x1="478.80" y1="736.75" x2="478.80" y2="745.75" stroke="#222" stroke-width="1.6"/>
<text x="528.20" y="585.80" font-size="14.5" text-anchor="start" font-weight="bold" fill="#111">P</text>
<line x1="562.50" y1="585.80" x2="562.50" y2="721.50" stroke="#000" stroke-width="1.7"/>
<line x1="561.65" y1="585.80" x2="566.00" y2="585.80" stroke="#000" stroke-width="1.7"/>
<text x="558.90" y="589.00" font-size="8.6" text-anchor="end" fill="#1e1e1e">250</text>
<line x1="561.65" y1="612.84" x2="566.00" y2="612.84" stroke="#000" stroke-width="1.7"/>
<text x="558.90" y="616.04" font-size="8.6" text-anchor="end" fill="#1e1e1e">200</text>
<line x1="561.65" y1="639.88" x2="566.00" y2="639.88" stroke="#000" stroke-width="1.7"/>
<text x="558.90" y="643.08" font-size="8.6" text-anchor="end" fill="#1e1e1e">150</text>
<line x1="561.65" y1="666.92" x2="566.00" y2="666.92" stroke="#000" stroke-width="1.7"/>
<text x="558.90" y="670.12" font-size="8.6" text-anchor="end" fill="#1e1e1e">100</text>
<line x1="561.65" y1="693.96" x2="566.00" y2="693.96" stroke="#000" stroke-width="1.7"/>
<text x="558.90" y="697.16" font-size="8.6" text-anchor="end" fill="#1e1e1e">50</text>
<line x1="561.65" y1="719.30" x2="566.00" y2="719.30" stroke="#000" stroke-width="1.7"/>
<text x="558.90" y="722.50" font-size="8.6" text-anchor="end" fill="#1e1e1e">0</text>
<text x="541.60" y="660.20" font-size="8.55" text-anchor="middle" fill="#1e1e1e" transform="rotate(-90 541.60 660.20)">Gastrocnemius Weight (mg)</text>
<line x1="578.60" y1="581.60" x2="663.60" y2="581.60" stroke="#3a3a3a" stroke-width="1.6"/>
<text x="621.10" y="579.10" font-size="7.0" text-anchor="middle" fill="#1e1e1e">n.s.</text>
<line x1="607.10" y1="591.90" x2="663.60" y2="591.90" stroke="#3a3a3a" stroke-width="1.6"/>
<text x="635.35" y="589.40" font-size="7.0" text-anchor="middle" fill="#1e1e1e">0.013</text>
<line x1="634.50" y1="601.70" x2="663.60" y2="601.70" stroke="#3a3a3a" stroke-width="1.6"/>
<text x="649.05" y="599.90" font-size="7.0" text-anchor="middle" fill="#1e1e1e">0.008</text>
<rect x="570.00" y="628.50" width="16.90" height="93.80" fill="#a6a7aa" stroke="#000" stroke-width="1.6"/>
<line x1="578.45" y1="721.50" x2="578.45" y2="717.70" stroke="#000" stroke-width="1.4"/>
<rect x="597.70" y="646.50" width="16.90" height="75.80" fill="#a6a7aa" stroke="#000" stroke-width="1.6"/>
<line x1="606.15" y1="721.50" x2="606.15" y2="717.70" stroke="#000" stroke-width="1.4"/>
<rect x="625.90" y="643.60" width="16.90" height="78.70" fill="#a6a7aa" stroke="#000" stroke-width="1.6"/>
<line x1="634.35" y1="721.50" x2="634.35" y2="717.70" stroke="#000" stroke-width="1.4"/>
<rect x="655.30" y="624.30" width="16.80" height="98.00" fill="#a6a7aa" stroke="#000" stroke-width="1.6"/>
<line x1="663.70" y1="721.50" x2="663.70" y2="717.70" stroke="#000" stroke-width="1.4"/>
<line x1="578.50" y1="623.50" x2="578.50" y2="631.10" stroke="#111" stroke-width="1.1"/>
<line x1="574.10" y1="623.50" x2="582.90" y2="623.50" stroke="#111" stroke-width="1.1"/>
<line x1="574.10" y1="631.10" x2="582.90" y2="631.10" stroke="#111" stroke-width="1.1"/>
<line x1="606.20" y1="642.80" x2="606.20" y2="650.40" stroke="#111" stroke-width="1.1"/>
<line x1="601.80" y1="642.80" x2="610.60" y2="642.80" stroke="#111" stroke-width="1.1"/>
<line x1="601.80" y1="650.40" x2="610.60" y2="650.40" stroke="#111" stroke-width="1.1"/>
<line x1="634.50" y1="639.40" x2="634.50" y2="647.30" stroke="#111" stroke-width="1.1"/>
<line x1="630.10" y1="639.40" x2="638.90" y2="639.40" stroke="#111" stroke-width="1.1"/>
<line x1="630.10" y1="647.30" x2="638.90" y2="647.30" stroke="#111" stroke-width="1.1"/>
<line x1="663.70" y1="621.50" x2="663.70" y2="625.50" stroke="#111" stroke-width="1.1"/>
<line x1="659.30" y1="621.50" x2="668.10" y2="621.50" stroke="#111" stroke-width="1.1"/>
<line x1="659.30" y1="625.50" x2="668.10" y2="625.50" stroke="#111" stroke-width="1.1"/>
<circle cx="578.10" cy="612.60" r="4.2" fill="#111" stroke="#fff" stroke-width="0.5"/>
<circle cx="571.40" cy="622.20" r="4.2" fill="#111" stroke="#fff" stroke-width="0.5"/>
<circle cx="585.50" cy="623.80" r="4.2" fill="#111" stroke="#fff" stroke-width="0.5"/>
<circle cx="572.00" cy="629.40" r="4.2" fill="#111" stroke="#fff" stroke-width="0.5"/>
<circle cx="584.30" cy="636.60" r="4.2" fill="#111" stroke="#fff" stroke-width="0.5"/>
<circle cx="572.60" cy="640.60" r="4.2" fill="#111" stroke="#fff" stroke-width="0.5"/>
<circle cx="600.60" cy="632.70" r="3.9" fill="#fff" stroke="#222" stroke-width="1"/>
<circle cx="600.60" cy="640.60" r="3.9" fill="#fff" stroke="#222" stroke-width="1"/>
<circle cx="612.00" cy="640.30" r="3.9" fill="#fff" stroke="#222" stroke-width="1"/>
<circle cx="612.00" cy="650.40" r="3.9" fill="#fff" stroke="#222" stroke-width="1"/>
<circle cx="612.00" cy="655.40" r="3.9" fill="#fff" stroke="#222" stroke-width="1"/>
<circle cx="600.60" cy="657.40" r="3.9" fill="#fff" stroke="#222" stroke-width="1"/>
<circle cx="634.30" cy="630.20" r="4.2" fill="#0a26f5" stroke="#fff" stroke-width="0.5"/>
<circle cx="628.50" cy="640.00" r="4.2" fill="#0a26f5" stroke="#fff" stroke-width="0.5"/>
<circle cx="640.00" cy="644.00" r="4.2" fill="#0a26f5" stroke="#fff" stroke-width="0.5"/>
<circle cx="640.00" cy="648.30" r="4.2" fill="#0a26f5" stroke="#fff" stroke-width="0.5"/>
<circle cx="628.50" cy="653.70" r="4.2" fill="#0a26f5" stroke="#fff" stroke-width="0.5"/>
<circle cx="658.20" cy="621.50" r="4.2" fill="#e5232b" stroke="#fff" stroke-width="0.5"/>
<circle cx="669.90" cy="618.50" r="4.2" fill="#e5232b" stroke="#fff" stroke-width="0.5"/>
<circle cx="658.20" cy="625.20" r="4.2" fill="#e5232b" stroke="#fff" stroke-width="0.5"/>
<circle cx="669.90" cy="623.50" r="4.2" fill="#e5232b" stroke="#fff" stroke-width="0.5"/>
<circle cx="658.20" cy="631.10" r="4.2" fill="#e5232b" stroke="#fff" stroke-width="0.5"/>
<circle cx="669.40" cy="627.20" r="4.2" fill="#e5232b" stroke="#fff" stroke-width="0.5"/>
<rect x="562.50" y="721.50" width="114.60" height="26.00" fill="#fff" stroke="#000" stroke-width="1.6"/>
<line x1="562.50" y1="734.30" x2="677.10" y2="734.30" stroke="#000" stroke-width="1.6"/>
<line x1="592.30" y1="721.50" x2="592.30" y2="734.30" stroke="#000" stroke-width="1.6"/>
<line x1="619.60" y1="721.50" x2="619.60" y2="734.30" stroke="#000" stroke-width="1.6"/>
<line x1="646.70" y1="721.50" x2="646.70" y2="734.30" stroke="#000" stroke-width="1.6"/>
<line x1="592.30" y1="734.30" x2="592.30" y2="747.50" stroke="#000" stroke-width="1.6"/>
<text x="559.90" y="730.90" font-size="8.3" text-anchor="end" fill="#1e1e1e">Antibody</text>
<text x="559.90" y="744.80" font-size="8.3" text-anchor="end" fill="#1e1e1e">H1573</text>
<line x1="573.40" y1="727.90" x2="582.00" y2="727.90" stroke="#222" stroke-width="1.5"/>
<line x1="601.70" y1="727.90" x2="610.30" y2="727.90" stroke="#222" stroke-width="1.5"/>
<text x="633.20" y="730.90" font-size="8.3" text-anchor="middle" fill="#1e1e1e">IgG</text>
<text x="662.00" y="730.90" font-size="8.3" text-anchor="middle" fill="#1e1e1e">GDF15</text>
<line x1="573.40" y1="740.90" x2="582.00" y2="740.90" stroke="#222" stroke-width="1.5"/>
<line x1="630.20" y1="740.90" x2="639.20" y2="740.90" stroke="#222" stroke-width="1.6"/>
<line x1="634.70" y1="736.40" x2="634.70" y2="745.40" stroke="#222" stroke-width="1.6"/>
</svg>
</body></html>
